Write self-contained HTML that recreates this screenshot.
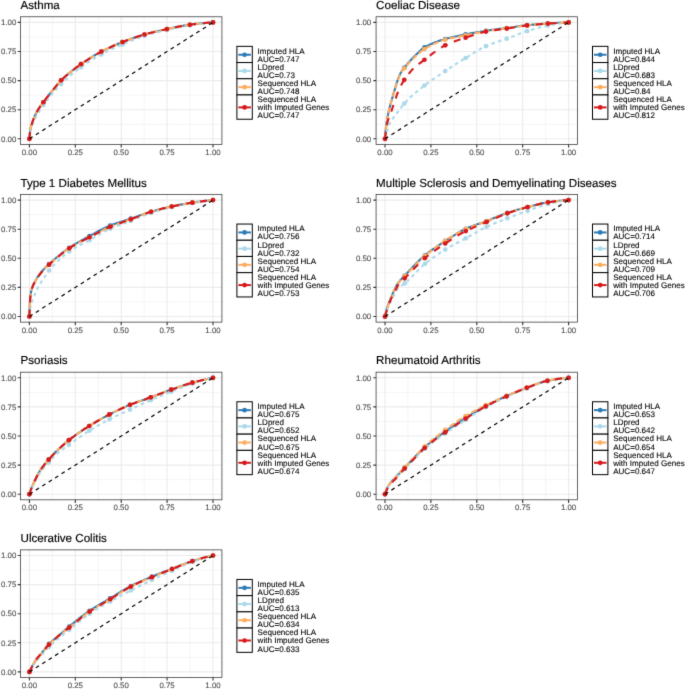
<!DOCTYPE html>
<html><head><meta charset="utf-8"><style>
html,body{margin:0;padding:0;background:#fff;}
body{width:685px;height:689px;overflow:hidden;}
svg{display:block;font-family:"Liberation Sans", sans-serif;text-rendering:geometricPrecision;}
.t{font-size:11.6px;fill:#000;stroke:#000;stroke-width:0.15px;}
.a{font-size:7.85px;fill:#4D4D4D;stroke:#4D4D4D;stroke-width:0.1px;}
.l{font-size:8.05px;fill:#000;stroke:#000;stroke-width:0.1px;}
.e{text-anchor:end;} .m{text-anchor:middle;}
</style></head><body>
<svg width="685" height="689" viewBox="0 0 685 689">
<defs><filter id="bl" filterUnits="userSpaceOnUse" x="-4" y="-4" width="693" height="697" color-interpolation-filters="sRGB"><feConvolveMatrix order="3" kernelMatrix="0.01 0.08 0.01 0.08 0.64 0.08 0.01 0.08 0.01" edgeMode="duplicate" preserveAlpha="true"/></filter></defs>
<g filter="url(#bl)">
<rect x="-4" y="-4" width="693" height="697" fill="#fff"/>
<text class="t" x="20.52" y="8.9">Asthma</text>
<path d="M52.35 16.58V144.62M20.22 124.25H222.18M98.25 16.58V144.62M20.22 95.15H222.18M144.15 16.58V144.62M20.22 66.05H222.18M190.05 16.58V144.62M20.22 36.95H222.18" stroke="#F3F3F3" stroke-width="0.8" fill="none"/>
<path d="M29.4 16.58V144.62M20.22 138.8H222.18M75.3 16.58V144.62M20.22 109.7H222.18M121.2 16.58V144.62M20.22 80.6H222.18M167.1 16.58V144.62M20.22 51.5H222.18M213 16.58V144.62M20.22 22.4H222.18" stroke="#EBEBEB" stroke-width="1.1" fill="none"/>
<path d="M29.4 138.8L29.4 138.6L29.5 138.0L29.6 137.0L29.7 135.7L29.8 134.1L30.0 132.3L30.2 130.7L30.2 130.7L30.5 129.2L30.8 127.8L30.9 127.2L31.1 126.4L31.5 125.1L31.7 124.3L31.9 123.8L32.3 122.4L32.5 121.9L32.8 121.0L33.3 119.7L33.8 118.3L34.0 117.9L34.4 117.0L34.4 117.0L35.0 115.6L35.5 114.5L35.6 114.3L36.3 112.9L37.0 111.6L37.0 111.5L37.5 110.7L37.7 110.3L38.5 109.1L38.6 108.9L39.3 107.8L40.1 106.7L40.2 106.6L41.0 105.4L41.6 104.6L41.9 104.1L42.9 102.9L43.2 102.5L43.4 102.3L43.9 101.5L44.7 100.4L44.9 100.2L45.9 98.8L46.2 98.4L47.0 97.4L47.8 96.5L48.1 96.0L49.3 94.5L49.3 94.5L50.5 93.0L50.8 92.6L51.7 91.5L52.2 91.0L52.3 90.7L53.0 90.0L53.9 88.8L54.3 88.4L55.4 86.9L55.6 86.7L56.9 85.1L58.5 83.3L60.0 81.6L61.2 80.4L61.5 80.0L63.1 78.5L64.6 77.1L66.1 75.7L67.7 74.4L69.2 73.1L70.7 71.9L72.2 70.7L73.8 69.5L75.3 68.3L76.8 67.2L78.4 66.1L79.9 65.0L81.0 64.2L81.4 63.9L83.0 62.8L84.5 61.8L86.0 60.8L87.5 59.8L89.1 58.8L90.6 57.8L92.1 56.9L93.7 55.9L95.2 55.0L96.7 54.2L98.2 53.3L99.8 52.5L101.3 51.6L101.4 51.6L102.8 50.9L104.4 50.1L105.9 49.3L107.4 48.6L109.0 47.9L110.5 47.2L112.0 46.5L113.5 45.8L115.1 45.1L116.6 44.5L118.1 43.8L119.7 43.2L121.2 42.6L122.5 42.1L122.7 42.0L124.3 41.4L125.8 40.8L127.3 40.2L128.8 39.7L130.4 39.1L131.9 38.6L133.4 38.0L135.0 37.5L136.5 37.0L138.0 36.5L139.6 36.0L141.1 35.5L142.6 35.1L144.2 34.6L144.5 34.5L145.7 34.2L147.2 33.8L148.7 33.3L150.3 32.9L151.8 32.5L153.3 32.2L154.9 31.8L156.4 31.4L157.9 31.0L159.5 30.7L161.0 30.3L162.5 30.0L164.0 29.7L165.6 29.3L166.9 29.0L167.1 29.0L168.6 28.7L170.2 28.3L171.7 28.0L173.2 27.7L174.8 27.4L176.3 27.1L177.8 26.8L179.3 26.5L180.9 26.2L182.4 25.9L183.9 25.6L185.5 25.4L187.0 25.1L188.5 24.9L189.9 24.7L190.1 24.7L191.6 24.5L193.1 24.3L194.6 24.1L196.2 23.9L197.7 23.8L199.2 23.6L200.8 23.4L202.3 23.3L203.8 23.1L205.3 23.0L206.9 22.8L208.4 22.7L209.9 22.6L211.5 22.5L213.0 22.4" stroke="#2C7BB6" stroke-width="2.1" fill="none"/>
<g fill="#2C7BB6"><circle cx="29.40" cy="138.80" r="2.35"/><circle cx="43.35" cy="102.25" r="2.35"/><circle cx="61.16" cy="80.37" r="2.35"/><circle cx="80.99" cy="64.19" r="2.35"/><circle cx="101.37" cy="51.62" r="2.35"/><circle cx="122.49" cy="42.07" r="2.35"/><circle cx="144.52" cy="34.51" r="2.35"/><circle cx="166.92" cy="29.03" r="2.35"/><circle cx="189.87" cy="24.73" r="2.35"/><circle cx="213.00" cy="22.40" r="2.35"/></g>
<path d="M29.4 138.8L29.4 138.7L29.5 138.2L29.6 137.6L29.7 136.6L29.8 135.4L30.0 134.1L30.2 132.7L30.4 131.8L30.5 131.4L30.8 130.1L30.9 129.5L31.1 128.8L31.5 127.5L31.9 126.3L32.0 126.0L32.3 125.0L32.5 124.6L32.8 123.8L33.3 122.6L33.8 121.4L34.0 121.0L34.4 120.1L34.9 119.0L35.0 118.9L35.5 117.8L35.6 117.6L36.3 116.3L37.0 115.0L37.0 114.9L37.7 113.7L38.0 113.2L38.5 112.4L38.6 112.3L39.3 111.1L40.1 109.8L40.2 109.7L41.0 108.4L41.6 107.5L41.9 107.0L42.9 105.7L43.2 105.3L43.4 105.0L43.9 104.3L44.7 103.2L44.9 103.0L45.9 101.6L46.2 101.2L47.0 100.2L47.8 99.3L48.1 98.8L49.3 97.4L49.3 97.4L50.5 96.0L50.8 95.6L51.7 94.5L52.2 94.0L52.3 93.8L53.0 93.1L53.9 92.0L54.3 91.6L55.4 90.2L55.6 90.0L56.9 88.5L58.5 86.8L60.0 85.3L61.2 84.1L61.5 83.7L63.1 82.3L64.6 80.8L66.1 79.4L67.7 78.0L69.2 76.7L70.7 75.3L72.2 74.0L73.8 72.8L75.3 71.5L76.8 70.3L78.4 69.2L79.9 68.0L81.0 67.2L81.4 66.9L83.0 65.8L84.5 64.7L86.0 63.7L87.5 62.7L89.1 61.7L90.6 60.7L92.1 59.7L93.7 58.8L95.2 57.9L96.7 57.0L98.2 56.1L99.8 55.3L101.3 54.4L101.4 54.4L102.8 53.6L104.4 52.8L105.9 52.1L107.4 51.3L109.0 50.6L110.5 49.8L112.0 49.1L113.5 48.4L115.1 47.7L116.6 47.1L118.1 46.4L119.7 45.7L121.2 45.1L122.5 44.5L122.7 44.4L124.3 43.8L125.8 43.1L127.3 42.4L128.8 41.8L130.4 41.1L131.9 40.5L133.4 39.9L135.0 39.2L136.5 38.6L138.0 38.0L139.6 37.5L141.1 36.9L142.6 36.4L144.2 35.9L144.5 35.8L145.7 35.4L147.2 35.0L148.7 34.5L150.3 34.1L151.8 33.7L153.3 33.3L154.9 32.9L156.4 32.5L157.9 32.1L159.5 31.7L161.0 31.3L162.5 31.0L164.0 30.6L165.6 30.3L166.9 30.0L167.1 29.9L168.6 29.6L170.2 29.2L171.7 28.9L173.2 28.5L174.8 28.2L176.3 27.9L177.8 27.6L179.3 27.2L180.9 26.9L182.4 26.6L183.9 26.3L185.5 26.1L187.0 25.8L188.5 25.5L189.9 25.3L190.1 25.3L191.6 25.0L193.1 24.8L194.6 24.6L196.2 24.4L197.7 24.2L199.2 23.9L200.8 23.7L202.3 23.5L203.8 23.4L205.3 23.2L206.9 23.0L208.4 22.8L209.9 22.7L211.5 22.5L213.0 22.4" stroke="#ABD9E9" stroke-width="2.1" fill="none" stroke-dasharray="3.6 3.4"/>
<g fill="#ABD9E9"><circle cx="29.40" cy="138.80" r="2.35"/><circle cx="43.35" cy="105.04" r="2.35"/><circle cx="61.16" cy="84.09" r="2.35"/><circle cx="80.99" cy="67.21" r="2.35"/><circle cx="101.37" cy="54.41" r="2.35"/><circle cx="122.49" cy="44.52" r="2.35"/><circle cx="144.52" cy="35.79" r="2.35"/><circle cx="166.92" cy="29.97" r="2.35"/><circle cx="189.87" cy="25.31" r="2.35"/><circle cx="213.00" cy="22.40" r="2.35"/></g>
<path d="M29.4 138.8L29.4 138.6L29.5 138.0L29.6 137.0L29.7 135.7L29.8 134.1L30.0 132.3L30.2 130.7L30.2 130.7L30.5 129.2L30.8 127.8L30.9 127.2L31.1 126.4L31.5 125.1L31.7 124.3L31.9 123.8L32.3 122.4L32.5 121.9L32.8 121.0L33.3 119.7L33.8 118.3L34.0 117.9L34.4 117.0L34.4 117.0L35.0 115.6L35.5 114.5L35.6 114.3L36.3 112.9L37.0 111.6L37.0 111.5L37.5 110.7L37.7 110.3L38.5 109.1L38.6 108.9L39.3 107.8L40.1 106.7L40.2 106.6L41.0 105.4L41.6 104.6L41.9 104.1L42.9 102.9L43.2 102.5L43.4 102.3L43.9 101.5L44.7 100.4L44.9 100.2L45.9 98.8L46.2 98.4L47.0 97.4L47.8 96.5L48.1 96.0L49.3 94.5L49.3 94.5L50.5 93.0L50.8 92.6L51.7 91.5L52.2 91.0L52.3 90.7L53.0 90.0L53.9 88.8L54.3 88.4L55.4 86.9L55.6 86.7L56.9 85.1L58.5 83.3L60.0 81.6L61.2 80.4L61.5 80.0L63.1 78.5L64.6 77.1L66.1 75.7L67.7 74.4L69.2 73.1L70.7 71.9L72.2 70.7L73.8 69.5L75.3 68.3L76.8 67.2L78.4 66.1L79.9 65.0L81.0 64.2L81.4 63.9L83.0 62.8L84.5 61.8L86.0 60.8L87.5 59.8L89.1 58.8L90.6 57.8L92.1 56.9L93.7 55.9L95.2 55.0L96.7 54.2L98.2 53.3L99.8 52.5L101.3 51.6L101.4 51.6L102.8 50.9L104.4 50.1L105.9 49.3L107.4 48.6L109.0 47.9L110.5 47.2L112.0 46.5L113.5 45.8L115.1 45.1L116.6 44.5L118.1 43.8L119.7 43.2L121.2 42.6L122.5 42.1L122.7 42.0L124.3 41.4L125.8 40.8L127.3 40.2L128.8 39.7L130.4 39.1L131.9 38.6L133.4 38.0L135.0 37.5L136.5 37.0L138.0 36.5L139.6 36.0L141.1 35.5L142.6 35.1L144.2 34.6L144.5 34.5L145.7 34.2L147.2 33.8L148.7 33.3L150.3 32.9L151.8 32.5L153.3 32.2L154.9 31.8L156.4 31.4L157.9 31.0L159.5 30.7L161.0 30.3L162.5 30.0L164.0 29.7L165.6 29.3L166.9 29.0L167.1 29.0L168.6 28.7L170.2 28.3L171.7 28.0L173.2 27.7L174.8 27.4L176.3 27.1L177.8 26.8L179.3 26.5L180.9 26.2L182.4 25.9L183.9 25.6L185.5 25.4L187.0 25.1L188.5 24.9L189.9 24.7L190.1 24.7L191.6 24.5L193.1 24.3L194.6 24.1L196.2 23.9L197.7 23.8L199.2 23.6L200.8 23.4L202.3 23.3L203.8 23.1L205.3 23.0L206.9 22.8L208.4 22.7L209.9 22.6L211.5 22.5L213.0 22.4" stroke="#FDAE61" stroke-width="2.1" fill="none" stroke-dasharray="6 2.6"/>
<g fill="#FDAE61"><circle cx="29.40" cy="138.80" r="2.35"/><circle cx="43.35" cy="102.25" r="2.35"/><circle cx="61.16" cy="80.37" r="2.35"/><circle cx="80.99" cy="64.19" r="2.35"/><circle cx="101.37" cy="51.62" r="2.35"/><circle cx="122.49" cy="42.07" r="2.35"/><circle cx="144.52" cy="34.51" r="2.35"/><circle cx="166.92" cy="29.03" r="2.35"/><circle cx="189.87" cy="24.73" r="2.35"/><circle cx="213.00" cy="22.40" r="2.35"/></g>
<path d="M29.4 138.8L29.4 138.6L29.5 138.0L29.6 137.0L29.7 135.7L29.8 134.1L30.0 132.3L30.2 130.7L30.2 130.7L30.5 129.2L30.8 127.8L30.9 127.2L31.1 126.4L31.5 125.1L31.7 124.3L31.9 123.8L32.3 122.4L32.5 121.9L32.8 121.0L33.3 119.7L33.8 118.3L34.0 117.9L34.4 117.0L34.4 117.0L35.0 115.6L35.5 114.5L35.6 114.3L36.3 112.9L37.0 111.6L37.0 111.5L37.5 110.7L37.7 110.3L38.5 109.1L38.6 108.9L39.3 107.8L40.1 106.7L40.2 106.6L41.0 105.4L41.6 104.6L41.9 104.1L42.9 102.9L43.2 102.5L43.4 102.3L43.9 101.5L44.7 100.4L44.9 100.2L45.9 98.8L46.2 98.4L47.0 97.4L47.8 96.5L48.1 96.0L49.3 94.5L49.3 94.5L50.5 93.0L50.8 92.6L51.7 91.5L52.2 91.0L52.3 90.7L53.0 90.0L53.9 88.8L54.3 88.4L55.4 86.9L55.6 86.7L56.9 85.1L58.5 83.3L60.0 81.6L61.2 80.4L61.5 80.0L63.1 78.5L64.6 77.1L66.1 75.7L67.7 74.4L69.2 73.1L70.7 71.9L72.2 70.7L73.8 69.5L75.3 68.3L76.8 67.2L78.4 66.1L79.9 65.0L81.0 64.2L81.4 63.9L83.0 62.8L84.5 61.8L86.0 60.8L87.5 59.8L89.1 58.8L90.6 57.8L92.1 56.9L93.7 55.9L95.2 55.0L96.7 54.2L98.2 53.3L99.8 52.5L101.3 51.6L101.4 51.6L102.8 50.9L104.4 50.1L105.9 49.3L107.4 48.6L109.0 47.9L110.5 47.2L112.0 46.5L113.5 45.8L115.1 45.1L116.6 44.5L118.1 43.8L119.7 43.2L121.2 42.6L122.5 42.1L122.7 42.0L124.3 41.4L125.8 40.8L127.3 40.2L128.8 39.7L130.4 39.1L131.9 38.6L133.4 38.0L135.0 37.5L136.5 37.0L138.0 36.5L139.6 36.0L141.1 35.5L142.6 35.1L144.2 34.6L144.5 34.5L145.7 34.2L147.2 33.8L148.7 33.3L150.3 32.9L151.8 32.5L153.3 32.2L154.9 31.8L156.4 31.4L157.9 31.0L159.5 30.7L161.0 30.3L162.5 30.0L164.0 29.7L165.6 29.3L166.9 29.0L167.1 29.0L168.6 28.7L170.2 28.3L171.7 28.0L173.2 27.7L174.8 27.4L176.3 27.1L177.8 26.8L179.3 26.5L180.9 26.2L182.4 25.9L183.9 25.6L185.5 25.4L187.0 25.1L188.5 24.9L189.9 24.7L190.1 24.7L191.6 24.5L193.1 24.3L194.6 24.1L196.2 23.9L197.7 23.8L199.2 23.6L200.8 23.4L202.3 23.3L203.8 23.1L205.3 23.0L206.9 22.8L208.4 22.7L209.9 22.6L211.5 22.5L213.0 22.4" stroke="#D7191C" stroke-width="2.1" fill="none" stroke-dasharray="7 7"/>
<g fill="#D7191C"><circle cx="29.40" cy="138.80" r="2.35"/><circle cx="43.35" cy="102.25" r="2.35"/><circle cx="61.16" cy="80.37" r="2.35"/><circle cx="80.99" cy="64.19" r="2.35"/><circle cx="101.37" cy="51.62" r="2.35"/><circle cx="122.49" cy="42.07" r="2.35"/><circle cx="144.52" cy="34.51" r="2.35"/><circle cx="166.92" cy="29.03" r="2.35"/><circle cx="189.87" cy="24.73" r="2.35"/><circle cx="213.00" cy="22.40" r="2.35"/></g>
<path d="M29.4 138.8L213 22.4" stroke="#000" stroke-width="1.2" stroke-dasharray="3.8 3.8" fill="none"/>
<rect x="20.47" y="16.78" width="201.46" height="127.64" fill="none" stroke="#333" stroke-width="0.75"/>
<path d="M17.72 138.8H20.47M29.4 144.42V147.52M17.72 109.7H20.47M75.3 144.42V147.52M17.72 80.6H20.47M121.2 144.42V147.52M17.72 51.5H20.47M167.1 144.42V147.52M17.72 22.4H20.47M213 144.42V147.52" stroke="#333" stroke-width="1.1" fill="none"/>
<text class="a e" x="16.32" y="141.5">0.00</text>
<text class="a m" x="29.4" y="154.97">0.00</text>
<text class="a e" x="16.32" y="112.4">0.25</text>
<text class="a m" x="75.3" y="154.97">0.25</text>
<text class="a e" x="16.32" y="83.3">0.50</text>
<text class="a m" x="121.2" y="154.97">0.50</text>
<text class="a e" x="16.32" y="54.2">0.75</text>
<text class="a m" x="167.1" y="154.97">0.75</text>
<text class="a e" x="16.32" y="25.1">1.00</text>
<text class="a m" x="213" y="154.97">1.00</text>
<rect x="236.9" y="46.35" width="15.4" height="16.2" fill="#fff" stroke="#000" stroke-width="1.0"/>
<path d="M238.4 54.75H250.9" stroke="#2C7BB6" stroke-width="2.0"/>
<circle cx="244.6" cy="54.75" r="2.35" fill="#2C7BB6"/>
<text class="l" x="257.6" y="53.62">Imputed HLA</text>
<text class="l" x="257.6" y="61.72">AUC=0.747</text>
<rect x="236.9" y="62.55" width="15.4" height="16.2" fill="#fff" stroke="#000" stroke-width="1.0"/>
<path d="M238.4 70.95H250.9" stroke="#ABD9E9" stroke-width="2.0"/>
<circle cx="244.6" cy="70.95" r="2.35" fill="#ABD9E9"/>
<text class="l" x="257.6" y="69.82">LDpred</text>
<text class="l" x="257.6" y="77.92">AUC=0.73</text>
<rect x="236.9" y="78.75" width="15.4" height="16.2" fill="#fff" stroke="#000" stroke-width="1.0"/>
<path d="M238.4 87.15H250.9" stroke="#FDAE61" stroke-width="2.0"/>
<circle cx="244.6" cy="87.15" r="2.35" fill="#FDAE61"/>
<text class="l" x="257.6" y="86.02">Sequenced HLA</text>
<text class="l" x="257.6" y="94.12">AUC=0.748</text>
<rect x="236.9" y="94.95" width="15.4" height="24.3" fill="#fff" stroke="#000" stroke-width="1.0"/>
<path d="M238.4 107.4H250.9" stroke="#D7191C" stroke-width="2.0"/>
<circle cx="244.6" cy="107.4" r="2.35" fill="#D7191C"/>
<text class="l" x="257.6" y="102.22">Sequenced HLA</text>
<text class="l" x="257.6" y="110.32">with Imputed Genes</text>
<text class="l" x="257.6" y="118.42">AUC=0.747</text>
<text class="t" x="376.12" y="8.9">Coeliac Disease</text>
<path d="M407.95 16.58V144.62M375.82 124.25H577.78M453.85 16.58V144.62M375.82 95.15H577.78M499.75 16.58V144.62M375.82 66.05H577.78M545.65 16.58V144.62M375.82 36.95H577.78" stroke="#F3F3F3" stroke-width="0.8" fill="none"/>
<path d="M385 16.58V144.62M375.82 138.8H577.78M430.9 16.58V144.62M375.82 109.7H577.78M476.8 16.58V144.62M375.82 80.6H577.78M522.7 16.58V144.62M375.82 51.5H577.78M568.6 16.58V144.62M375.82 22.4H577.78" stroke="#EBEBEB" stroke-width="1.1" fill="none"/>
<path d="M385.0 138.8L385.0 138.6L385.1 138.0L385.2 137.0L385.3 135.6L385.4 133.8L385.6 131.7L385.8 129.4L386.1 126.9L386.4 124.5L386.5 123.9L386.5 123.5L386.7 122.1L387.1 119.8L387.5 117.4L387.9 115.1L388.1 114.3L388.4 112.8L388.9 110.5L389.1 109.4L389.4 108.2L389.6 107.4L390.0 105.9L390.6 103.7L391.1 101.9L391.2 101.6L391.9 99.3L392.6 97.0L392.6 96.8L392.7 96.5L393.3 94.4L394.1 91.7L394.2 91.5L394.9 89.0L395.3 87.8L395.7 86.4L395.8 86.3L396.6 83.4L397.2 81.5L397.5 80.6L398.5 77.9L398.6 77.7L398.8 77.2L399.5 75.6L400.3 73.8L400.5 73.4L401.5 71.5L401.5 71.5L401.8 71.0L402.6 69.9L403.4 68.9L403.7 68.5L404.3 67.8L404.9 67.0L404.9 67.0L406.1 65.5L406.4 65.1L407.3 64.1L407.9 63.3L408.6 62.6L409.5 61.6L409.9 61.1L410.2 60.8L411.0 59.9L411.2 59.7L412.5 58.3L414.1 56.7L415.6 55.2L416.8 54.1L417.1 53.7L418.7 52.2L420.2 50.8L421.7 49.4L423.2 48.2L424.5 47.4L424.8 47.2L426.3 46.4L427.8 45.6L429.4 44.8L430.9 44.1L432.4 43.5L434.0 42.8L435.5 42.2L437.0 41.7L438.6 41.1L440.1 40.6L441.6 40.1L443.1 39.7L444.7 39.2L445.2 39.0L446.2 38.8L447.7 38.3L449.3 37.9L450.8 37.6L452.3 37.2L453.9 36.8L455.4 36.5L456.9 36.2L458.4 35.8L460.0 35.5L461.5 35.2L463.0 34.9L464.6 34.6L465.6 34.4L466.1 34.3L467.6 34.0L469.1 33.7L470.7 33.4L472.2 33.1L473.7 32.8L475.3 32.6L476.8 32.3L478.3 32.0L479.9 31.8L481.4 31.5L482.9 31.3L484.4 31.0L486.0 30.8L487.5 30.6L489.0 30.3L490.6 30.1L492.1 29.9L493.6 29.7L495.2 29.5L496.7 29.3L498.2 29.1L499.8 28.9L501.3 28.7L502.8 28.5L504.3 28.3L505.9 28.1L506.7 28.0L507.4 27.9L508.9 27.7L510.5 27.5L512.0 27.2L513.5 27.0L515.0 26.8L516.6 26.5L518.1 26.3L519.6 26.1L521.2 25.9L522.7 25.7L524.2 25.5L525.8 25.3L527.1 25.2L527.3 25.2L528.8 25.0L530.4 24.9L531.9 24.7L533.4 24.6L534.9 24.5L536.5 24.4L538.0 24.2L539.5 24.1L541.1 24.0L542.6 23.9L544.1 23.8L545.6 23.7L547.2 23.6L547.9 23.6L548.7 23.5L550.2 23.4L551.8 23.3L553.3 23.2L554.8 23.1L556.4 23.0L557.9 22.9L559.4 22.9L561.0 22.8L562.5 22.7L564.0 22.6L565.5 22.5L567.1 22.5L568.6 22.4" stroke="#2C7BB6" stroke-width="2.1" fill="none"/>
<g fill="#2C7BB6"><circle cx="385.00" cy="138.80" r="2.35"/><circle cx="404.28" cy="67.80" r="2.35"/><circle cx="424.47" cy="47.43" r="2.35"/><circle cx="445.22" cy="39.05" r="2.35"/><circle cx="465.60" cy="34.39" r="2.35"/><circle cx="485.98" cy="30.78" r="2.35"/><circle cx="506.73" cy="27.99" r="2.35"/><circle cx="527.11" cy="25.19" r="2.35"/><circle cx="547.85" cy="23.56" r="2.35"/><circle cx="568.60" cy="22.40" r="2.35"/></g>
<path d="M385.0 138.8L385.0 138.7L385.1 138.5L385.2 138.2L385.3 137.7L385.4 137.1L385.6 136.3L385.8 135.4L386.1 134.4L386.4 133.3L386.5 132.8L386.7 132.1L387.1 130.8L387.5 129.5L387.9 128.1L388.1 127.6L388.4 126.7L388.9 125.3L389.4 124.3L389.4 124.1L389.6 123.8L390.0 123.0L390.6 121.9L391.1 121.0L391.2 120.8L391.9 119.8L392.6 118.8L392.6 118.7L393.3 117.8L394.1 116.8L394.2 116.7L394.9 115.8L395.7 114.8L395.8 114.7L396.6 113.6L397.2 112.8L397.3 112.7L397.5 112.4L398.5 111.1L398.8 110.7L399.5 109.7L400.3 108.6L400.5 108.3L401.5 106.9L401.8 106.5L402.6 105.5L403.4 104.6L403.7 104.1L404.3 103.5L404.9 102.9L404.9 102.9L406.1 101.6L406.4 101.2L407.3 100.3L407.9 99.7L408.6 99.1L409.5 98.2L409.9 97.8L411.0 96.7L411.2 96.6L412.5 95.3L414.1 94.0L415.6 92.7L417.1 91.4L418.7 90.1L420.2 88.9L421.7 87.7L423.2 86.4L424.5 85.5L424.8 85.2L426.3 84.1L427.8 82.9L429.4 81.8L430.9 80.7L432.4 79.6L434.0 78.6L435.5 77.5L437.0 76.5L438.6 75.5L440.1 74.5L441.6 73.5L443.1 72.4L444.7 71.4L445.2 71.1L446.2 70.4L447.7 69.4L449.3 68.4L450.8 67.4L452.3 66.4L453.9 65.4L455.4 64.4L456.9 63.4L458.4 62.5L460.0 61.5L461.5 60.5L463.0 59.6L464.6 58.7L465.6 58.0L466.1 57.7L467.6 56.8L469.1 55.8L470.7 54.9L472.2 53.9L473.7 52.9L475.3 52.0L476.8 51.0L478.3 50.1L479.9 49.3L481.4 48.4L482.9 47.6L484.4 46.9L486.0 46.1L487.5 45.5L489.0 44.9L490.6 44.3L492.1 43.7L493.6 43.1L495.2 42.6L496.7 42.1L498.2 41.6L499.8 41.1L501.3 40.6L502.8 40.1L504.3 39.5L505.9 39.0L506.7 38.7L507.4 38.4L508.9 37.9L510.5 37.3L512.0 36.7L513.5 36.1L515.0 35.5L516.6 34.9L518.1 34.3L519.6 33.7L521.2 33.2L522.7 32.6L524.2 32.1L525.8 31.6L527.1 31.1L527.3 31.1L528.8 30.6L530.4 30.1L531.9 29.7L533.4 29.2L534.9 28.8L536.5 28.3L538.0 27.9L539.5 27.5L541.1 27.1L542.6 26.7L544.1 26.3L545.6 26.0L547.2 25.7L547.9 25.5L548.7 25.4L550.2 25.1L551.8 24.8L553.3 24.5L554.8 24.3L556.4 24.0L557.9 23.8L559.4 23.5L561.0 23.3L562.5 23.1L564.0 22.9L565.5 22.7L567.1 22.6L568.6 22.4" stroke="#ABD9E9" stroke-width="2.1" fill="none" stroke-dasharray="3.6 3.4"/>
<g fill="#ABD9E9"><circle cx="385.00" cy="138.80" r="2.35"/><circle cx="404.28" cy="103.53" r="2.35"/><circle cx="424.47" cy="85.49" r="2.35"/><circle cx="445.22" cy="71.06" r="2.35"/><circle cx="465.60" cy="58.02" r="2.35"/><circle cx="485.98" cy="46.15" r="2.35"/><circle cx="506.73" cy="38.70" r="2.35"/><circle cx="527.11" cy="31.13" r="2.35"/><circle cx="547.85" cy="25.54" r="2.35"/><circle cx="568.60" cy="22.40" r="2.35"/></g>
<path d="M385.0 138.8L385.0 138.6L385.1 138.0L385.2 137.0L385.3 135.7L385.4 134.0L385.6 131.9L385.8 129.7L386.1 127.2L386.4 124.8L386.5 124.3L386.5 123.8L386.7 122.5L387.1 120.1L387.5 117.8L387.9 115.4L388.1 114.7L388.4 113.1L388.9 110.8L389.1 109.7L389.4 108.5L389.6 107.8L390.0 106.3L390.6 104.1L391.1 102.2L391.2 101.9L391.9 99.7L392.6 97.3L392.6 97.1L392.7 96.9L393.3 94.7L394.1 92.1L394.2 91.8L394.9 89.4L395.3 88.2L395.7 86.8L395.8 86.6L396.6 83.7L397.2 81.8L397.5 80.9L398.5 78.3L398.6 78.0L398.8 77.6L399.5 75.9L400.3 74.1L400.5 73.7L401.5 71.9L401.5 71.8L401.8 71.4L402.6 70.3L403.4 69.4L403.7 68.9L404.3 68.3L404.9 67.5L404.9 67.5L406.1 66.1L406.4 65.7L407.3 64.7L407.9 64.0L408.6 63.3L409.5 62.3L409.9 61.9L410.2 61.6L411.0 60.7L411.2 60.6L412.5 59.2L414.1 57.7L415.6 56.3L416.8 55.2L417.1 54.9L418.7 53.6L420.2 52.2L421.7 51.0L423.2 49.9L424.5 49.1L424.8 48.9L426.3 48.0L427.8 47.1L429.4 46.3L430.9 45.4L432.4 44.7L434.0 43.9L435.5 43.2L437.0 42.6L438.6 41.9L440.1 41.3L441.6 40.8L443.1 40.3L444.7 39.8L445.2 39.6L446.2 39.4L447.7 38.9L449.3 38.6L450.8 38.2L452.3 37.9L453.9 37.6L455.4 37.3L456.9 37.0L458.4 36.7L460.0 36.4L461.5 36.1L463.0 35.8L464.6 35.5L465.6 35.3L466.1 35.2L467.6 34.9L469.1 34.6L470.7 34.2L472.2 33.9L473.7 33.6L475.3 33.2L476.8 32.9L478.3 32.6L479.9 32.3L481.4 32.0L482.9 31.7L484.4 31.4L486.0 31.1L487.5 30.9L489.0 30.6L490.6 30.4L492.1 30.2L493.6 30.0L495.2 29.8L496.7 29.6L498.2 29.4L499.8 29.2L501.3 29.0L502.8 28.8L504.3 28.6L505.9 28.3L506.7 28.2L507.4 28.1L508.9 27.9L510.5 27.7L512.0 27.4L513.5 27.2L515.0 27.0L516.6 26.7L518.1 26.5L519.6 26.3L521.2 26.0L522.7 25.8L524.2 25.6L525.8 25.5L527.1 25.3L527.3 25.3L528.8 25.1L530.4 25.0L531.9 24.8L533.4 24.7L534.9 24.6L536.5 24.4L538.0 24.3L539.5 24.2L541.1 24.1L542.6 23.9L544.1 23.8L545.6 23.7L547.2 23.6L547.9 23.6L548.7 23.5L550.2 23.4L551.8 23.3L553.3 23.2L554.8 23.1L556.4 23.0L557.9 22.9L559.4 22.8L561.0 22.8L562.5 22.7L564.0 22.6L565.5 22.5L567.1 22.5L568.6 22.4" stroke="#FDAE61" stroke-width="2.1" fill="none" stroke-dasharray="6 2.6"/>
<g fill="#FDAE61"><circle cx="385.00" cy="138.80" r="2.35"/><circle cx="404.28" cy="68.26" r="2.35"/><circle cx="424.47" cy="49.06" r="2.35"/><circle cx="445.22" cy="39.63" r="2.35"/><circle cx="465.60" cy="35.32" r="2.35"/><circle cx="485.98" cy="31.13" r="2.35"/><circle cx="506.73" cy="28.22" r="2.35"/><circle cx="527.11" cy="25.31" r="2.35"/><circle cx="547.85" cy="23.56" r="2.35"/><circle cx="568.60" cy="22.40" r="2.35"/></g>
<path d="M385.0 138.8L385.0 138.7L385.1 138.2L385.2 137.5L385.3 136.5L385.4 135.2L385.6 133.6L385.8 131.8L386.1 129.8L386.4 127.8L386.5 126.9L386.7 125.8L387.0 124.3L387.1 124.0L387.5 122.3L387.9 120.7L388.1 120.2L388.4 119.2L388.9 117.6L389.4 116.2L389.6 115.7L390.0 114.7L390.6 113.2L391.1 111.9L391.2 111.6L391.9 109.8L391.9 109.7L392.6 107.6L392.6 107.5L393.3 105.4L394.1 103.0L394.2 102.8L394.9 100.5L395.7 98.2L395.8 98.1L396.6 95.7L397.2 94.1L397.3 94.0L397.5 93.4L398.5 91.2L398.8 90.5L399.5 88.9L400.3 87.2L400.5 86.7L401.5 84.6L401.8 84.1L402.6 82.6L403.4 81.3L403.7 80.6L404.3 79.8L404.9 78.9L404.9 78.8L406.1 77.1L406.4 76.7L407.3 75.5L407.9 74.6L408.6 73.9L409.5 72.8L409.9 72.3L411.0 71.0L411.2 70.8L412.5 69.4L413.8 68.1L414.1 67.9L415.6 66.5L417.1 65.2L418.7 64.0L420.2 62.9L421.7 61.8L423.2 60.7L424.5 59.8L424.8 59.5L426.3 58.4L427.8 57.2L429.4 56.0L430.9 54.9L432.4 53.7L434.0 52.5L435.5 51.4L437.0 50.3L438.6 49.3L440.1 48.3L441.6 47.3L443.1 46.4L444.7 45.6L445.2 45.3L446.2 44.9L447.7 44.2L449.3 43.5L450.8 42.9L452.3 42.2L453.9 41.7L455.4 41.1L456.9 40.6L458.4 40.0L460.0 39.5L461.5 39.0L463.0 38.5L464.6 38.0L465.6 37.6L466.1 37.5L467.6 37.0L469.1 36.5L470.7 35.9L472.2 35.4L473.7 34.9L475.3 34.4L476.8 34.0L478.3 33.5L479.9 33.1L481.4 32.7L482.9 32.3L484.4 31.9L486.0 31.6L487.5 31.3L489.0 31.0L490.6 30.8L492.1 30.6L493.6 30.3L495.2 30.1L496.7 29.9L498.2 29.7L499.8 29.5L501.3 29.3L502.8 29.1L504.3 28.9L505.9 28.7L506.7 28.6L507.4 28.5L508.9 28.2L510.5 28.0L512.0 27.7L513.5 27.5L515.0 27.2L516.6 27.0L518.1 26.7L519.6 26.5L521.2 26.2L522.7 26.0L524.2 25.8L525.8 25.6L527.1 25.4L527.3 25.4L528.8 25.2L530.4 25.1L531.9 24.9L533.4 24.8L534.9 24.6L536.5 24.5L538.0 24.3L539.5 24.2L541.1 24.1L542.6 24.0L544.1 23.8L545.6 23.7L547.2 23.6L547.9 23.6L548.7 23.5L550.2 23.4L551.8 23.3L553.3 23.2L554.8 23.1L556.4 23.0L557.9 22.9L559.4 22.8L561.0 22.8L562.5 22.7L564.0 22.6L565.5 22.5L567.1 22.5L568.6 22.4" stroke="#D7191C" stroke-width="2.1" fill="none" stroke-dasharray="7 7"/>
<g fill="#D7191C"><circle cx="385.00" cy="138.80" r="2.35"/><circle cx="404.28" cy="79.79" r="2.35"/><circle cx="424.47" cy="59.76" r="2.35"/><circle cx="445.22" cy="45.33" r="2.35"/><circle cx="465.60" cy="37.65" r="2.35"/><circle cx="485.98" cy="31.60" r="2.35"/><circle cx="506.73" cy="28.57" r="2.35"/><circle cx="527.11" cy="25.43" r="2.35"/><circle cx="547.85" cy="23.56" r="2.35"/><circle cx="568.60" cy="22.40" r="2.35"/></g>
<path d="M385 138.8L568.6 22.4" stroke="#000" stroke-width="1.2" stroke-dasharray="3.8 3.8" fill="none"/>
<rect x="376.07" y="16.78" width="201.46" height="127.64" fill="none" stroke="#333" stroke-width="0.75"/>
<path d="M373.32 138.8H376.07M385 144.42V147.52M373.32 109.7H376.07M430.9 144.42V147.52M373.32 80.6H376.07M476.8 144.42V147.52M373.32 51.5H376.07M522.7 144.42V147.52M373.32 22.4H376.07M568.6 144.42V147.52" stroke="#333" stroke-width="1.1" fill="none"/>
<text class="a e" x="371.22" y="141.5">0.00</text>
<text class="a m" x="385" y="154.97">0.00</text>
<text class="a e" x="371.22" y="112.4">0.25</text>
<text class="a m" x="430.9" y="154.97">0.25</text>
<text class="a e" x="371.22" y="83.3">0.50</text>
<text class="a m" x="476.8" y="154.97">0.50</text>
<text class="a e" x="371.22" y="54.2">0.75</text>
<text class="a m" x="522.7" y="154.97">0.75</text>
<text class="a e" x="371.22" y="25.1">1.00</text>
<text class="a m" x="568.6" y="154.97">1.00</text>
<rect x="592.5" y="46.35" width="15.4" height="16.2" fill="#fff" stroke="#000" stroke-width="1.0"/>
<path d="M594 54.75H606.5" stroke="#2C7BB6" stroke-width="2.0"/>
<circle cx="600.2" cy="54.75" r="2.35" fill="#2C7BB6"/>
<text class="l" x="613.2" y="53.62">Imputed HLA</text>
<text class="l" x="613.2" y="61.72">AUC=0.844</text>
<rect x="592.5" y="62.55" width="15.4" height="16.2" fill="#fff" stroke="#000" stroke-width="1.0"/>
<path d="M594 70.95H606.5" stroke="#ABD9E9" stroke-width="2.0"/>
<circle cx="600.2" cy="70.95" r="2.35" fill="#ABD9E9"/>
<text class="l" x="613.2" y="69.82">LDpred</text>
<text class="l" x="613.2" y="77.92">AUC=0.683</text>
<rect x="592.5" y="78.75" width="15.4" height="16.2" fill="#fff" stroke="#000" stroke-width="1.0"/>
<path d="M594 87.15H606.5" stroke="#FDAE61" stroke-width="2.0"/>
<circle cx="600.2" cy="87.15" r="2.35" fill="#FDAE61"/>
<text class="l" x="613.2" y="86.02">Sequenced HLA</text>
<text class="l" x="613.2" y="94.12">AUC=0.84</text>
<rect x="592.5" y="94.95" width="15.4" height="24.3" fill="#fff" stroke="#000" stroke-width="1.0"/>
<path d="M594 107.4H606.5" stroke="#D7191C" stroke-width="2.0"/>
<circle cx="600.2" cy="107.4" r="2.35" fill="#D7191C"/>
<text class="l" x="613.2" y="102.22">Sequenced HLA</text>
<text class="l" x="613.2" y="110.32">with Imputed Genes</text>
<text class="l" x="613.2" y="118.42">AUC=0.812</text>
<text class="t" x="20.52" y="186.6">Type 1 Diabetes Mellitus</text>
<path d="M52.35 194.28V322.32M20.22 301.95H222.18M98.25 194.28V322.32M20.22 272.85H222.18M144.15 194.28V322.32M20.22 243.75H222.18M190.05 194.28V322.32M20.22 214.65H222.18" stroke="#F3F3F3" stroke-width="0.8" fill="none"/>
<path d="M29.4 194.28V322.32M20.22 316.5H222.18M75.3 194.28V322.32M20.22 287.4H222.18M121.2 194.28V322.32M20.22 258.3H222.18M167.1 194.28V322.32M20.22 229.2H222.18M213 194.28V322.32M20.22 200.1H222.18" stroke="#EBEBEB" stroke-width="1.1" fill="none"/>
<path d="M29.4 316.5L29.4 315.7L29.5 313.6L29.6 310.4L29.6 309.5L29.7 307.2L29.8 303.9L30.0 301.9L30.0 301.0L30.2 298.1L30.5 295.5L30.6 294.8L30.8 293.6L30.9 292.8L31.1 291.7L31.5 290.0L31.9 288.5L32.3 287.1L32.3 287.1L32.5 286.7L32.8 285.9L33.3 284.7L33.8 283.6L34.0 283.2L34.4 282.5L35.0 281.5L35.5 280.6L35.5 280.5L35.6 280.4L36.3 279.2L37.0 278.1L37.0 278.0L37.7 276.9L38.5 275.8L38.6 275.6L39.3 274.6L40.1 273.5L40.2 273.5L41.0 272.3L41.1 272.3L41.6 271.6L41.9 271.2L42.9 270.2L43.2 269.9L43.9 269.1L44.6 268.4L44.7 268.3L44.9 268.1L45.9 267.0L46.2 266.8L47.0 266.0L47.8 265.3L48.1 264.9L49.0 264.1L49.3 263.9L49.3 263.9L50.5 262.8L50.8 262.5L51.7 261.8L52.3 261.2L53.0 260.7L53.9 259.9L54.3 259.5L55.4 258.5L55.6 258.4L56.9 257.2L58.5 256.0L60.0 254.7L61.5 253.5L63.1 252.3L64.6 251.1L66.1 250.0L67.7 248.9L69.2 247.9L69.2 247.8L70.7 246.9L72.2 245.9L73.8 244.9L75.3 244.0L76.8 243.1L78.4 242.2L79.9 241.4L81.4 240.5L83.0 239.7L84.5 238.9L86.0 238.0L87.5 237.2L89.1 236.4L89.4 236.2L90.6 235.5L92.1 234.7L93.7 233.8L95.2 233.0L96.7 232.1L98.2 231.3L99.8 230.5L101.3 229.7L102.8 228.9L104.4 228.1L105.9 227.4L107.4 226.6L109.0 226.0L110.2 225.5L110.5 225.4L112.0 224.8L113.5 224.2L115.1 223.7L116.6 223.2L118.1 222.7L119.7 222.2L121.2 221.7L122.7 221.2L124.3 220.8L125.8 220.3L127.3 219.8L128.8 219.3L130.4 218.8L130.7 218.7L131.9 218.3L133.4 217.8L135.0 217.3L136.5 216.7L138.0 216.2L139.6 215.6L141.1 215.1L142.6 214.5L144.2 214.0L145.7 213.5L147.2 213.0L148.7 212.5L150.3 212.0L151.1 211.7L151.8 211.5L153.3 211.1L154.9 210.7L156.4 210.2L157.9 209.8L159.5 209.4L161.0 209.0L162.5 208.6L164.0 208.3L165.6 207.9L167.1 207.5L168.6 207.2L170.2 206.8L171.7 206.5L173.2 206.2L174.8 205.9L176.3 205.5L177.8 205.2L179.3 204.9L180.9 204.6L182.4 204.3L183.9 204.1L185.5 203.8L187.0 203.5L188.5 203.3L190.1 203.0L191.6 202.8L192.4 202.7L193.1 202.6L194.6 202.3L196.2 202.1L197.7 201.9L199.2 201.7L200.8 201.5L202.3 201.3L203.8 201.1L205.3 200.9L206.9 200.7L208.4 200.6L209.9 200.4L211.5 200.2L213.0 200.1" stroke="#2C7BB6" stroke-width="2.1" fill="none"/>
<g fill="#2C7BB6"><circle cx="29.40" cy="316.50" r="2.35"/><circle cx="49.05" cy="264.12" r="2.35"/><circle cx="69.24" cy="247.82" r="2.35"/><circle cx="89.44" cy="236.18" r="2.35"/><circle cx="110.18" cy="225.48" r="2.35"/><circle cx="130.75" cy="218.72" r="2.35"/><circle cx="151.13" cy="211.74" r="2.35"/><circle cx="171.69" cy="206.50" r="2.35"/><circle cx="192.44" cy="202.66" r="2.35"/><circle cx="213.00" cy="200.10" r="2.35"/></g>
<path d="M29.4 316.5L29.4 316.3L29.5 315.7L29.6 314.8L29.7 313.5L29.8 312.0L30.0 310.3L30.1 309.5L30.2 308.9L30.5 307.4L30.8 306.0L30.9 305.4L31.1 304.7L31.5 303.3L31.9 302.0L31.9 301.9L32.3 300.7L32.5 300.2L32.8 299.4L33.3 298.1L33.8 296.8L34.0 296.4L34.4 295.5L34.5 295.1L35.0 294.0L35.5 292.8L35.6 292.5L36.3 291.0L37.0 289.5L37.0 289.4L37.7 288.0L38.0 287.4L38.5 286.5L38.6 286.4L39.3 285.1L40.1 283.9L40.2 283.8L41.0 282.4L41.6 281.5L41.9 281.1L41.9 281.0L42.9 279.5L43.2 279.1L43.9 278.1L44.7 276.8L44.9 276.5L45.9 275.0L46.2 274.6L46.8 273.7L47.0 273.4L47.8 272.3L48.1 271.7L49.0 270.5L49.3 270.2L49.3 270.2L50.5 268.8L50.8 268.4L51.7 267.4L52.3 266.7L53.0 266.0L53.9 265.0L54.3 264.6L55.4 263.4L55.6 263.2L56.9 261.9L58.5 260.4L60.0 258.9L61.5 257.5L63.1 256.2L64.6 254.9L66.1 253.7L67.7 252.6L69.2 251.5L69.2 251.4L70.7 250.4L72.2 249.4L73.8 248.5L75.3 247.6L76.8 246.8L78.4 245.9L79.9 245.1L81.4 244.3L83.0 243.6L84.5 242.8L86.0 242.0L87.5 241.2L89.1 240.3L89.4 240.1L90.6 239.5L92.1 238.6L93.7 237.7L95.2 236.9L96.7 236.0L98.2 235.1L99.8 234.2L101.3 233.3L102.8 232.5L104.4 231.6L105.9 230.8L107.4 230.0L109.0 229.3L110.2 228.7L110.5 228.6L112.0 227.9L113.5 227.3L115.1 226.7L116.6 226.1L118.1 225.5L119.7 224.9L121.2 224.3L122.7 223.8L124.3 223.2L125.8 222.7L127.3 222.1L128.8 221.5L130.4 221.0L130.7 220.8L131.9 220.4L133.4 219.8L135.0 219.1L136.5 218.5L138.0 217.9L139.6 217.3L141.1 216.6L142.6 216.0L144.2 215.4L145.7 214.8L147.2 214.3L148.7 213.7L150.3 213.2L151.1 212.9L151.8 212.7L153.3 212.2L154.9 211.7L156.4 211.2L157.9 210.8L159.5 210.3L161.0 209.9L162.5 209.4L164.0 209.0L165.6 208.6L167.1 208.2L168.6 207.8L170.2 207.4L171.7 207.1L173.2 206.7L174.8 206.4L176.3 206.1L177.8 205.7L179.3 205.4L180.9 205.1L182.4 204.8L183.9 204.5L185.5 204.2L187.0 203.9L188.5 203.7L190.1 203.4L191.6 203.2L192.4 203.0L193.1 202.9L194.6 202.7L196.2 202.4L197.7 202.2L199.2 201.9L200.8 201.7L202.3 201.5L203.8 201.3L205.3 201.1L206.9 200.9L208.4 200.7L209.9 200.5L211.5 200.3L213.0 200.1" stroke="#ABD9E9" stroke-width="2.1" fill="none" stroke-dasharray="3.6 3.4"/>
<g fill="#ABD9E9"><circle cx="29.40" cy="316.50" r="2.35"/><circle cx="49.05" cy="270.52" r="2.35"/><circle cx="69.24" cy="251.43" r="2.35"/><circle cx="89.44" cy="240.14" r="2.35"/><circle cx="110.18" cy="228.73" r="2.35"/><circle cx="130.75" cy="220.82" r="2.35"/><circle cx="151.13" cy="212.90" r="2.35"/><circle cx="171.69" cy="207.08" r="2.35"/><circle cx="192.44" cy="203.01" r="2.35"/><circle cx="213.00" cy="200.10" r="2.35"/></g>
<path d="M29.4 316.5L29.4 315.7L29.5 313.6L29.6 310.4L29.6 309.5L29.7 307.2L29.8 303.9L30.0 301.9L30.0 301.0L30.2 298.2L30.5 295.7L30.6 295.1L30.8 293.8L30.9 293.0L31.1 292.0L31.5 290.3L31.9 288.8L32.3 287.5L32.3 287.4L32.5 287.1L32.8 286.2L33.3 285.1L33.8 284.0L34.0 283.6L34.4 283.0L35.0 281.9L35.5 281.1L35.5 281.0L35.6 280.8L36.3 279.7L37.0 278.6L37.0 278.5L37.7 277.5L38.5 276.3L38.6 276.2L39.3 275.2L40.1 274.1L40.2 274.0L41.0 272.9L41.1 272.9L41.6 272.2L41.9 271.8L42.9 270.7L43.2 270.4L43.9 269.6L44.6 268.9L44.7 268.8L44.9 268.6L45.9 267.5L46.2 267.3L47.0 266.5L47.8 265.8L48.1 265.5L49.0 264.7L49.3 264.5L49.3 264.5L50.5 263.4L50.8 263.1L51.7 262.3L52.3 261.8L53.0 261.2L53.9 260.4L54.3 260.1L55.4 259.1L55.6 259.0L56.9 257.8L58.5 256.5L60.0 255.2L61.5 254.0L63.1 252.7L64.6 251.6L66.1 250.4L67.7 249.4L69.2 248.3L69.2 248.3L70.7 247.3L72.2 246.4L73.8 245.5L75.3 244.6L76.8 243.8L78.4 242.9L79.9 242.1L81.4 241.3L83.0 240.6L84.5 239.8L86.0 239.0L87.5 238.2L89.1 237.4L89.4 237.2L90.6 236.6L92.1 235.8L93.7 235.0L95.2 234.2L96.7 233.4L98.2 232.6L99.8 231.8L101.3 231.0L102.8 230.3L104.4 229.5L105.9 228.8L107.4 228.1L109.0 227.4L110.2 226.9L110.5 226.7L112.0 226.1L113.5 225.5L115.1 224.9L116.6 224.3L118.1 223.8L119.7 223.2L121.2 222.7L122.7 222.2L124.3 221.6L125.8 221.1L127.3 220.5L128.8 220.0L130.4 219.4L130.7 219.3L131.9 218.9L133.4 218.3L135.0 217.7L136.5 217.1L138.0 216.5L139.6 215.9L141.1 215.3L142.6 214.7L144.2 214.1L145.7 213.6L147.2 213.0L148.7 212.5L150.3 212.0L151.1 211.7L151.8 211.5L153.3 211.1L154.9 210.6L156.4 210.2L157.9 209.8L159.5 209.4L161.0 209.0L162.5 208.6L164.0 208.2L165.6 207.9L167.1 207.5L168.6 207.2L170.2 206.8L171.7 206.5L173.2 206.2L174.8 205.9L176.3 205.5L177.8 205.2L179.3 204.9L180.9 204.6L182.4 204.3L183.9 204.1L185.5 203.8L187.0 203.5L188.5 203.3L190.1 203.0L191.6 202.8L192.4 202.7L193.1 202.6L194.6 202.3L196.2 202.1L197.7 201.9L199.2 201.7L200.8 201.5L202.3 201.3L203.8 201.1L205.3 200.9L206.9 200.7L208.4 200.6L209.9 200.4L211.5 200.2L213.0 200.1" stroke="#FDAE61" stroke-width="2.1" fill="none" stroke-dasharray="6 2.6"/>
<g fill="#FDAE61"><circle cx="29.40" cy="316.50" r="2.35"/><circle cx="49.05" cy="264.70" r="2.35"/><circle cx="69.24" cy="248.29" r="2.35"/><circle cx="89.44" cy="237.23" r="2.35"/><circle cx="110.18" cy="226.87" r="2.35"/><circle cx="130.75" cy="219.31" r="2.35"/><circle cx="151.13" cy="211.74" r="2.35"/><circle cx="171.69" cy="206.50" r="2.35"/><circle cx="192.44" cy="202.66" r="2.35"/><circle cx="213.00" cy="200.10" r="2.35"/></g>
<path d="M29.4 316.5L29.4 315.7L29.5 313.6L29.6 310.4L29.6 309.5L29.7 307.2L29.8 303.9L30.0 301.9L30.0 301.0L30.2 298.2L30.5 295.7L30.6 295.1L30.8 293.8L30.9 293.0L31.1 292.0L31.5 290.3L31.9 288.8L32.3 287.5L32.3 287.4L32.5 287.1L32.8 286.2L33.3 285.1L33.8 284.0L34.0 283.6L34.4 283.0L35.0 281.9L35.5 281.1L35.5 281.0L35.6 280.8L36.3 279.7L37.0 278.6L37.0 278.5L37.7 277.5L38.5 276.3L38.6 276.2L39.3 275.2L40.1 274.1L40.2 274.0L41.0 272.9L41.1 272.9L41.6 272.2L41.9 271.8L42.9 270.7L43.2 270.4L43.9 269.6L44.6 268.9L44.7 268.8L44.9 268.6L45.9 267.5L46.2 267.3L47.0 266.5L47.8 265.8L48.1 265.5L49.0 264.7L49.3 264.5L49.3 264.5L50.5 263.4L50.8 263.1L51.7 262.3L52.3 261.8L53.0 261.2L53.9 260.4L54.3 260.1L55.4 259.1L55.6 259.0L56.9 257.8L58.5 256.5L60.0 255.2L61.5 254.0L63.1 252.7L64.6 251.6L66.1 250.4L67.7 249.4L69.2 248.3L69.2 248.3L70.7 247.3L72.2 246.4L73.8 245.5L75.3 244.6L76.8 243.8L78.4 242.9L79.9 242.1L81.4 241.3L83.0 240.6L84.5 239.8L86.0 239.0L87.5 238.2L89.1 237.4L89.4 237.2L90.6 236.6L92.1 235.8L93.7 235.0L95.2 234.2L96.7 233.4L98.2 232.6L99.8 231.8L101.3 231.0L102.8 230.3L104.4 229.5L105.9 228.8L107.4 228.1L109.0 227.4L110.2 226.9L110.5 226.7L112.0 226.1L113.5 225.5L115.1 224.9L116.6 224.3L118.1 223.8L119.7 223.2L121.2 222.7L122.7 222.2L124.3 221.6L125.8 221.1L127.3 220.5L128.8 220.0L130.4 219.4L130.7 219.3L131.9 218.9L133.4 218.3L135.0 217.7L136.5 217.1L138.0 216.5L139.6 215.9L141.1 215.3L142.6 214.7L144.2 214.1L145.7 213.6L147.2 213.0L148.7 212.5L150.3 212.0L151.1 211.7L151.8 211.5L153.3 211.1L154.9 210.6L156.4 210.2L157.9 209.8L159.5 209.4L161.0 209.0L162.5 208.6L164.0 208.2L165.6 207.9L167.1 207.5L168.6 207.2L170.2 206.8L171.7 206.5L173.2 206.2L174.8 205.9L176.3 205.5L177.8 205.2L179.3 204.9L180.9 204.6L182.4 204.3L183.9 204.1L185.5 203.8L187.0 203.5L188.5 203.3L190.1 203.0L191.6 202.8L192.4 202.7L193.1 202.6L194.6 202.3L196.2 202.1L197.7 201.9L199.2 201.7L200.8 201.5L202.3 201.3L203.8 201.1L205.3 200.9L206.9 200.7L208.4 200.6L209.9 200.4L211.5 200.2L213.0 200.1" stroke="#D7191C" stroke-width="2.1" fill="none" stroke-dasharray="7 7"/>
<g fill="#D7191C"><circle cx="29.40" cy="316.50" r="2.35"/><circle cx="49.05" cy="264.70" r="2.35"/><circle cx="69.24" cy="248.29" r="2.35"/><circle cx="89.44" cy="237.23" r="2.35"/><circle cx="110.18" cy="226.87" r="2.35"/><circle cx="130.75" cy="219.31" r="2.35"/><circle cx="151.13" cy="211.74" r="2.35"/><circle cx="171.69" cy="206.50" r="2.35"/><circle cx="192.44" cy="202.66" r="2.35"/><circle cx="213.00" cy="200.10" r="2.35"/></g>
<path d="M29.4 316.5L213 200.1" stroke="#000" stroke-width="1.2" stroke-dasharray="3.8 3.8" fill="none"/>
<rect x="20.47" y="194.48" width="201.46" height="127.64" fill="none" stroke="#333" stroke-width="0.75"/>
<path d="M17.72 316.5H20.47M29.4 322.12V325.22M17.72 287.4H20.47M75.3 322.12V325.22M17.72 258.3H20.47M121.2 322.12V325.22M17.72 229.2H20.47M167.1 322.12V325.22M17.72 200.1H20.47M213 322.12V325.22" stroke="#333" stroke-width="1.1" fill="none"/>
<text class="a e" x="16.32" y="319.2">0.00</text>
<text class="a m" x="29.4" y="332.67">0.00</text>
<text class="a e" x="16.32" y="290.1">0.25</text>
<text class="a m" x="75.3" y="332.67">0.25</text>
<text class="a e" x="16.32" y="261">0.50</text>
<text class="a m" x="121.2" y="332.67">0.50</text>
<text class="a e" x="16.32" y="231.9">0.75</text>
<text class="a m" x="167.1" y="332.67">0.75</text>
<text class="a e" x="16.32" y="202.8">1.00</text>
<text class="a m" x="213" y="332.67">1.00</text>
<rect x="236.9" y="224.05" width="15.4" height="16.2" fill="#fff" stroke="#000" stroke-width="1.0"/>
<path d="M238.4 232.45H250.9" stroke="#2C7BB6" stroke-width="2.0"/>
<circle cx="244.6" cy="232.45" r="2.35" fill="#2C7BB6"/>
<text class="l" x="257.6" y="231.32">Imputed HLA</text>
<text class="l" x="257.6" y="239.42">AUC=0.756</text>
<rect x="236.9" y="240.25" width="15.4" height="16.2" fill="#fff" stroke="#000" stroke-width="1.0"/>
<path d="M238.4 248.65H250.9" stroke="#ABD9E9" stroke-width="2.0"/>
<circle cx="244.6" cy="248.65" r="2.35" fill="#ABD9E9"/>
<text class="l" x="257.6" y="247.52">LDpred</text>
<text class="l" x="257.6" y="255.62">AUC=0.732</text>
<rect x="236.9" y="256.45" width="15.4" height="16.2" fill="#fff" stroke="#000" stroke-width="1.0"/>
<path d="M238.4 264.85H250.9" stroke="#FDAE61" stroke-width="2.0"/>
<circle cx="244.6" cy="264.85" r="2.35" fill="#FDAE61"/>
<text class="l" x="257.6" y="263.72">Sequenced HLA</text>
<text class="l" x="257.6" y="271.82">AUC=0.754</text>
<rect x="236.9" y="272.65" width="15.4" height="24.3" fill="#fff" stroke="#000" stroke-width="1.0"/>
<path d="M238.4 285.1H250.9" stroke="#D7191C" stroke-width="2.0"/>
<circle cx="244.6" cy="285.1" r="2.35" fill="#D7191C"/>
<text class="l" x="257.6" y="279.92">Sequenced HLA</text>
<text class="l" x="257.6" y="288.02">with Imputed Genes</text>
<text class="l" x="257.6" y="296.12">AUC=0.753</text>
<text class="t" x="376.12" y="186.6">Multiple Sclerosis and Demyelinating Diseases</text>
<path d="M407.95 194.28V322.32M375.82 301.95H577.78M453.85 194.28V322.32M375.82 272.85H577.78M499.75 194.28V322.32M375.82 243.75H577.78M545.65 194.28V322.32M375.82 214.65H577.78" stroke="#F3F3F3" stroke-width="0.8" fill="none"/>
<path d="M385 194.28V322.32M375.82 316.5H577.78M430.9 194.28V322.32M375.82 287.4H577.78M476.8 194.28V322.32M375.82 258.3H577.78M522.7 194.28V322.32M375.82 229.2H577.78M568.6 194.28V322.32M375.82 200.1H577.78" stroke="#EBEBEB" stroke-width="1.1" fill="none"/>
<path d="M385.0 316.5L385.0 316.4L385.1 316.2L385.2 315.8L385.3 315.2L385.4 314.5L385.6 313.6L385.8 312.6L386.1 311.5L386.4 310.3L386.5 309.8L386.7 309.1L386.8 308.7L387.1 307.9L387.5 306.7L387.9 305.4L388.1 304.9L388.4 304.1L388.9 302.8L389.4 301.4L389.6 301.0L390.0 300.1L390.6 298.7L391.1 297.4L391.2 297.2L391.4 296.7L391.9 295.6L392.6 294.0L392.6 293.9L393.3 292.3L394.1 290.6L394.2 290.4L394.9 288.8L395.7 287.2L395.8 287.1L396.6 285.4L397.2 284.4L397.5 283.9L397.9 283.4L398.5 282.5L398.8 282.2L399.5 281.3L400.3 280.3L400.5 280.1L401.5 279.0L401.8 278.7L402.6 277.8L403.4 277.1L403.7 276.7L404.6 275.8L404.9 275.5L404.9 275.5L406.1 274.2L406.4 273.8L407.3 272.9L407.9 272.2L408.6 271.5L409.5 270.5L409.9 270.1L411.0 268.9L411.2 268.7L412.5 267.3L414.1 265.7L415.6 264.1L417.1 262.6L418.7 261.0L420.2 259.6L421.7 258.2L423.2 256.8L424.8 255.5L425.0 255.3L426.3 254.2L427.8 253.0L429.4 251.8L430.9 250.7L432.4 249.6L434.0 248.5L435.5 247.5L437.0 246.4L438.6 245.4L440.1 244.4L441.6 243.4L443.1 242.4L444.7 241.4L445.2 241.1L446.2 240.4L447.7 239.4L449.3 238.4L450.8 237.4L452.3 236.4L453.9 235.5L455.4 234.5L456.9 233.5L458.4 232.6L460.0 231.7L461.5 230.9L463.0 230.1L464.6 229.3L465.8 228.7L466.1 228.6L467.6 227.9L469.1 227.3L470.7 226.7L472.2 226.1L473.7 225.5L475.3 225.0L476.8 224.5L478.3 223.9L479.9 223.4L481.4 222.9L482.9 222.4L484.4 221.8L486.0 221.3L486.5 221.1L487.5 220.7L489.0 220.1L490.6 219.5L492.1 218.8L493.6 218.2L495.2 217.6L496.7 216.9L498.2 216.3L499.8 215.7L501.3 215.1L502.8 214.5L504.3 213.9L505.9 213.4L507.3 212.9L507.4 212.9L508.9 212.4L510.5 211.9L512.0 211.4L513.5 210.9L515.0 210.5L516.6 210.1L518.1 209.6L519.6 209.2L521.2 208.8L522.7 208.4L524.2 208.0L525.8 207.6L527.3 207.2L527.7 207.1L528.8 206.8L530.4 206.4L531.9 206.0L533.4 205.6L534.9 205.2L536.5 204.8L538.0 204.4L539.5 204.0L541.1 203.6L542.6 203.3L544.1 203.0L545.6 202.7L547.2 202.4L548.0 202.3L548.7 202.2L550.2 202.0L551.8 201.8L553.3 201.6L554.8 201.4L556.4 201.2L557.9 201.0L559.4 200.8L561.0 200.7L562.5 200.5L564.0 200.4L565.5 200.3L567.1 200.2L568.6 200.1" stroke="#2C7BB6" stroke-width="2.1" fill="none"/>
<g fill="#2C7BB6"><circle cx="385.00" cy="316.50" r="2.35"/><circle cx="404.65" cy="275.76" r="2.35"/><circle cx="425.02" cy="255.27" r="2.35"/><circle cx="445.22" cy="241.07" r="2.35"/><circle cx="465.78" cy="228.73" r="2.35"/><circle cx="486.53" cy="221.05" r="2.35"/><circle cx="507.28" cy="212.90" r="2.35"/><circle cx="527.66" cy="207.08" r="2.35"/><circle cx="548.04" cy="202.31" r="2.35"/><circle cx="568.60" cy="200.10" r="2.35"/></g>
<path d="M385.0 316.5L385.0 316.4L385.1 316.3L385.2 316.0L385.3 315.6L385.4 315.1L385.6 314.5L385.8 313.8L386.1 313.0L386.4 312.2L386.5 311.8L386.7 311.2L387.1 310.2L387.5 309.1L387.9 307.9L388.1 307.6L388.4 306.8L388.5 306.5L388.9 305.6L389.4 304.4L389.6 304.0L390.0 303.1L390.6 301.9L391.1 300.8L391.2 300.6L391.9 299.3L392.5 298.1L392.6 298.0L392.6 297.9L393.3 296.6L394.1 295.1L394.2 294.9L394.9 293.5L395.7 292.1L395.8 292.0L396.6 290.5L397.2 289.6L397.5 289.1L398.5 287.9L398.8 287.6L399.5 287.0L400.3 286.3L400.5 286.2L401.5 285.5L401.8 285.3L402.6 284.8L403.4 284.4L403.7 284.1L404.6 283.4L404.9 283.2L404.9 283.2L406.1 282.2L406.4 282.0L407.3 281.2L407.9 280.6L408.6 280.0L409.5 279.1L409.9 278.7L411.0 277.6L411.2 277.4L412.5 276.0L414.1 274.4L415.6 272.8L417.1 271.3L418.7 269.7L420.2 268.2L421.7 266.7L423.2 265.3L424.8 264.0L425.0 263.8L426.3 262.7L427.8 261.5L429.4 260.4L430.9 259.2L432.4 258.1L434.0 257.0L435.5 255.9L437.0 254.9L438.6 253.8L440.1 252.8L441.6 251.8L443.1 250.9L444.7 249.9L445.2 249.6L446.2 249.0L447.7 248.1L449.3 247.2L450.8 246.3L452.3 245.5L453.9 244.6L455.4 243.8L456.9 243.0L458.4 242.2L460.0 241.4L461.5 240.6L463.0 239.8L464.6 238.9L465.8 238.3L466.1 238.1L467.6 237.3L469.1 236.4L470.7 235.5L472.2 234.6L473.7 233.8L475.3 232.9L476.8 232.0L478.3 231.1L479.9 230.3L481.4 229.5L482.9 228.7L484.4 227.9L486.0 227.1L486.5 226.9L487.5 226.4L489.0 225.7L490.6 225.0L492.1 224.4L493.6 223.7L495.2 223.1L496.7 222.5L498.2 221.9L499.8 221.3L501.3 220.7L502.8 220.1L504.3 219.5L505.9 218.9L507.3 218.4L507.4 218.3L508.9 217.7L510.5 217.1L512.0 216.6L513.5 216.0L515.0 215.4L516.6 214.8L518.1 214.3L519.6 213.7L521.2 213.1L522.7 212.6L524.2 212.0L525.8 211.5L527.3 210.9L527.7 210.8L528.8 210.4L530.4 209.8L531.9 209.3L533.4 208.7L534.9 208.1L536.5 207.6L538.0 207.0L539.5 206.5L541.1 206.0L542.6 205.5L544.1 205.0L545.6 204.6L547.2 204.2L548.0 203.9L548.7 203.8L550.2 203.4L551.8 203.1L553.3 202.7L554.8 202.4L556.4 202.1L557.9 201.8L559.4 201.5L561.0 201.2L562.5 200.9L564.0 200.7L565.5 200.5L567.1 200.3L568.6 200.1" stroke="#ABD9E9" stroke-width="2.1" fill="none" stroke-dasharray="3.6 3.4"/>
<g fill="#ABD9E9"><circle cx="385.00" cy="316.50" r="2.35"/><circle cx="404.65" cy="283.44" r="2.35"/><circle cx="425.02" cy="263.77" r="2.35"/><circle cx="445.22" cy="249.57" r="2.35"/><circle cx="465.78" cy="238.28" r="2.35"/><circle cx="486.53" cy="226.87" r="2.35"/><circle cx="507.28" cy="218.37" r="2.35"/><circle cx="527.66" cy="210.81" r="2.35"/><circle cx="548.04" cy="203.94" r="2.35"/><circle cx="568.60" cy="200.10" r="2.35"/></g>
<path d="M385.0 316.5L385.0 316.4L385.1 316.2L385.2 315.8L385.3 315.3L385.4 314.6L385.6 313.8L385.8 312.8L386.1 311.7L386.4 310.6L386.5 310.1L386.7 309.4L386.8 309.1L387.1 308.3L387.5 307.0L387.9 305.8L388.1 305.4L388.4 304.5L388.9 303.2L389.4 301.9L389.6 301.4L390.0 300.5L390.6 299.1L391.1 297.9L391.2 297.7L391.4 297.2L391.9 296.1L392.6 294.5L392.6 294.3L393.3 292.8L394.1 291.0L394.2 290.9L394.9 289.3L395.7 287.6L395.8 287.5L396.6 285.9L397.2 284.9L397.5 284.4L397.9 283.9L398.5 283.0L398.8 282.6L399.5 281.8L400.3 280.8L400.5 280.6L401.5 279.5L401.8 279.2L402.6 278.4L403.4 277.7L403.7 277.3L404.6 276.3L404.9 276.1L404.9 276.1L406.1 274.8L406.4 274.5L407.3 273.5L407.9 272.8L408.6 272.2L409.5 271.2L409.9 270.8L411.0 269.6L411.2 269.4L412.5 268.0L414.1 266.4L415.6 264.9L417.1 263.3L418.7 261.8L420.2 260.4L421.7 258.9L423.2 257.5L424.8 256.2L425.0 256.0L426.3 254.9L427.8 253.6L429.4 252.3L430.9 251.1L432.4 249.8L434.0 248.6L435.5 247.5L437.0 246.3L438.6 245.2L440.1 244.1L441.6 243.0L443.1 242.0L444.7 241.0L445.2 240.6L446.2 240.0L447.7 239.0L449.3 238.0L450.8 237.1L452.3 236.1L453.9 235.2L455.4 234.3L456.9 233.5L458.4 232.6L460.0 231.8L461.5 231.0L463.0 230.3L464.6 229.5L465.8 229.0L466.1 228.8L467.6 228.2L469.1 227.5L470.7 226.9L472.2 226.4L473.7 225.8L475.3 225.3L476.8 224.7L478.3 224.2L479.9 223.7L481.4 223.1L482.9 222.6L484.4 222.1L486.0 221.5L486.5 221.3L487.5 220.9L489.0 220.3L490.6 219.7L492.1 219.1L493.6 218.4L495.2 217.8L496.7 217.2L498.2 216.6L499.8 215.9L501.3 215.3L502.8 214.7L504.3 214.2L505.9 213.6L507.3 213.1L507.4 213.1L508.9 212.6L510.5 212.1L512.0 211.6L513.5 211.1L515.0 210.6L516.6 210.2L518.1 209.7L519.6 209.3L521.2 208.8L522.7 208.4L524.2 208.0L525.8 207.6L527.3 207.2L527.7 207.1L528.8 206.8L530.4 206.4L531.9 206.0L533.4 205.6L534.9 205.2L536.5 204.8L538.0 204.4L539.5 204.0L541.1 203.6L542.6 203.3L544.1 203.0L545.6 202.7L547.2 202.4L548.0 202.3L548.7 202.2L550.2 202.0L551.8 201.8L553.3 201.6L554.8 201.4L556.4 201.2L557.9 201.0L559.4 200.8L561.0 200.7L562.5 200.5L564.0 200.4L565.5 200.3L567.1 200.2L568.6 200.1" stroke="#FDAE61" stroke-width="2.1" fill="none" stroke-dasharray="6 2.6"/>
<g fill="#FDAE61"><circle cx="385.00" cy="316.50" r="2.35"/><circle cx="404.65" cy="276.34" r="2.35"/><circle cx="425.02" cy="255.97" r="2.35"/><circle cx="445.22" cy="240.61" r="2.35"/><circle cx="465.78" cy="228.97" r="2.35"/><circle cx="486.53" cy="221.28" r="2.35"/><circle cx="507.28" cy="213.14" r="2.35"/><circle cx="527.66" cy="207.08" r="2.35"/><circle cx="548.04" cy="202.31" r="2.35"/><circle cx="568.60" cy="200.10" r="2.35"/></g>
<path d="M385.0 316.5L385.0 316.4L385.1 316.3L385.2 316.0L385.3 315.6L385.4 315.1L385.6 314.4L385.8 313.7L386.1 312.9L386.4 311.9L386.5 311.5L386.7 310.9L386.8 310.7L387.1 309.8L387.5 308.6L387.9 307.3L388.1 306.9L388.4 306.0L388.9 304.5L389.4 303.0L389.6 302.5L390.0 301.5L390.5 300.2L390.6 300.0L391.1 298.8L391.2 298.6L391.9 297.1L392.6 295.6L392.6 295.5L393.3 294.1L394.1 292.6L394.2 292.5L394.9 291.1L395.6 289.7L395.7 289.6L395.8 289.5L396.6 287.9L397.2 286.8L397.5 286.2L398.5 284.6L398.8 284.2L399.3 283.4L399.5 283.3L400.3 282.3L400.5 282.1L401.5 281.1L401.8 280.8L402.6 280.1L403.4 279.5L403.7 279.2L404.6 278.3L404.9 278.1L404.9 278.1L406.1 276.9L406.4 276.6L407.3 275.7L407.9 275.0L408.6 274.4L409.5 273.4L409.9 273.0L411.0 271.8L411.2 271.7L412.5 270.2L414.1 268.6L415.6 267.0L417.1 265.5L418.7 263.9L420.2 262.4L421.7 261.0L423.2 259.6L424.8 258.3L425.0 258.1L426.3 257.0L427.8 255.8L429.4 254.6L430.9 253.4L432.4 252.3L434.0 251.2L435.5 250.1L437.0 249.0L438.6 248.0L440.1 246.9L441.6 245.9L443.1 244.9L444.7 243.9L445.2 243.5L446.2 242.9L447.7 241.9L449.3 240.9L450.8 239.9L452.3 238.9L453.9 237.9L455.4 237.0L456.9 236.0L458.4 235.1L460.0 234.2L461.5 233.3L463.0 232.5L464.6 231.7L465.8 231.1L466.1 230.9L467.6 230.2L469.1 229.4L470.7 228.7L472.2 228.1L473.7 227.4L475.3 226.7L476.8 226.1L478.3 225.5L479.9 224.9L481.4 224.2L482.9 223.6L484.4 223.0L486.0 222.3L486.5 222.1L487.5 221.7L489.0 221.0L490.6 220.3L492.1 219.7L493.6 219.0L495.2 218.3L496.7 217.6L498.2 217.0L499.8 216.3L501.3 215.7L502.8 215.1L504.3 214.5L505.9 213.9L507.3 213.4L507.4 213.3L508.9 212.8L510.5 212.3L512.0 211.7L513.5 211.2L515.0 210.8L516.6 210.3L518.1 209.8L519.6 209.3L521.2 208.9L522.7 208.4L524.2 208.0L525.8 207.6L527.3 207.2L527.7 207.1L528.8 206.8L530.4 206.4L531.9 205.9L533.4 205.5L534.9 205.1L536.5 204.7L538.0 204.4L539.5 204.0L541.1 203.6L542.6 203.3L544.1 203.0L545.6 202.7L547.2 202.4L548.0 202.3L548.7 202.2L550.2 202.0L551.8 201.8L553.3 201.6L554.8 201.4L556.4 201.2L557.9 201.0L559.4 200.8L561.0 200.7L562.5 200.5L564.0 200.4L565.5 200.3L567.1 200.2L568.6 200.1" stroke="#D7191C" stroke-width="2.1" fill="none" stroke-dasharray="7 7"/>
<g fill="#D7191C"><circle cx="385.00" cy="316.50" r="2.35"/><circle cx="404.65" cy="278.32" r="2.35"/><circle cx="425.02" cy="258.07" r="2.35"/><circle cx="445.22" cy="243.52" r="2.35"/><circle cx="465.78" cy="231.06" r="2.35"/><circle cx="486.53" cy="222.10" r="2.35"/><circle cx="507.28" cy="213.37" r="2.35"/><circle cx="527.66" cy="207.08" r="2.35"/><circle cx="548.04" cy="202.31" r="2.35"/><circle cx="568.60" cy="200.10" r="2.35"/></g>
<path d="M385 316.5L568.6 200.1" stroke="#000" stroke-width="1.2" stroke-dasharray="3.8 3.8" fill="none"/>
<rect x="376.07" y="194.48" width="201.46" height="127.64" fill="none" stroke="#333" stroke-width="0.75"/>
<path d="M373.32 316.5H376.07M385 322.12V325.22M373.32 287.4H376.07M430.9 322.12V325.22M373.32 258.3H376.07M476.8 322.12V325.22M373.32 229.2H376.07M522.7 322.12V325.22M373.32 200.1H376.07M568.6 322.12V325.22" stroke="#333" stroke-width="1.1" fill="none"/>
<text class="a e" x="371.22" y="319.2">0.00</text>
<text class="a m" x="385" y="332.67">0.00</text>
<text class="a e" x="371.22" y="290.1">0.25</text>
<text class="a m" x="430.9" y="332.67">0.25</text>
<text class="a e" x="371.22" y="261">0.50</text>
<text class="a m" x="476.8" y="332.67">0.50</text>
<text class="a e" x="371.22" y="231.9">0.75</text>
<text class="a m" x="522.7" y="332.67">0.75</text>
<text class="a e" x="371.22" y="202.8">1.00</text>
<text class="a m" x="568.6" y="332.67">1.00</text>
<rect x="592.5" y="224.05" width="15.4" height="16.2" fill="#fff" stroke="#000" stroke-width="1.0"/>
<path d="M594 232.45H606.5" stroke="#2C7BB6" stroke-width="2.0"/>
<circle cx="600.2" cy="232.45" r="2.35" fill="#2C7BB6"/>
<text class="l" x="613.2" y="231.32">Imputed HLA</text>
<text class="l" x="613.2" y="239.42">AUC=0.714</text>
<rect x="592.5" y="240.25" width="15.4" height="16.2" fill="#fff" stroke="#000" stroke-width="1.0"/>
<path d="M594 248.65H606.5" stroke="#ABD9E9" stroke-width="2.0"/>
<circle cx="600.2" cy="248.65" r="2.35" fill="#ABD9E9"/>
<text class="l" x="613.2" y="247.52">LDpred</text>
<text class="l" x="613.2" y="255.62">AUC=0.669</text>
<rect x="592.5" y="256.45" width="15.4" height="16.2" fill="#fff" stroke="#000" stroke-width="1.0"/>
<path d="M594 264.85H606.5" stroke="#FDAE61" stroke-width="2.0"/>
<circle cx="600.2" cy="264.85" r="2.35" fill="#FDAE61"/>
<text class="l" x="613.2" y="263.72">Sequenced HLA</text>
<text class="l" x="613.2" y="271.82">AUC=0.709</text>
<rect x="592.5" y="272.65" width="15.4" height="24.3" fill="#fff" stroke="#000" stroke-width="1.0"/>
<path d="M594 285.1H606.5" stroke="#D7191C" stroke-width="2.0"/>
<circle cx="600.2" cy="285.1" r="2.35" fill="#D7191C"/>
<text class="l" x="613.2" y="279.92">Sequenced HLA</text>
<text class="l" x="613.2" y="288.02">with Imputed Genes</text>
<text class="l" x="613.2" y="296.12">AUC=0.706</text>
<text class="t" x="20.52" y="364.3">Psoriasis</text>
<path d="M52.35 371.98V500.02M20.22 479.65H222.18M98.25 371.98V500.02M20.22 450.55H222.18M144.15 371.98V500.02M20.22 421.45H222.18M190.05 371.98V500.02M20.22 392.35H222.18" stroke="#F3F3F3" stroke-width="0.8" fill="none"/>
<path d="M29.4 371.98V500.02M20.22 494.2H222.18M75.3 371.98V500.02M20.22 465.1H222.18M121.2 371.98V500.02M20.22 436H222.18M167.1 371.98V500.02M20.22 406.9H222.18M213 371.98V500.02M20.22 377.8H222.18" stroke="#EBEBEB" stroke-width="1.1" fill="none"/>
<path d="M29.4 494.2L29.4 494.1L29.5 494.0L29.6 493.7L29.7 493.4L29.8 492.9L30.0 492.3L30.2 491.7L30.5 490.9L30.8 490.1L30.9 489.7L31.1 489.2L31.5 488.2L31.7 487.6L31.9 487.2L32.3 486.1L32.5 485.8L32.8 485.1L33.3 483.9L33.8 482.7L34.0 482.3L34.4 481.5L35.0 480.3L35.5 479.3L35.5 479.2L35.6 479.0L36.3 477.6L37.0 476.3L37.0 476.1L37.7 474.8L38.5 473.4L38.6 473.3L39.3 472.0L40.1 470.6L40.2 470.6L40.6 469.9L41.0 469.2L41.6 468.3L41.9 467.9L42.9 466.6L43.2 466.3L43.9 465.3L44.7 464.3L44.9 464.1L45.9 462.8L46.2 462.5L47.0 461.5L47.8 460.7L48.1 460.2L48.7 459.6L49.3 458.9L49.3 458.9L50.5 457.6L50.8 457.2L51.7 456.2L52.3 455.5L53.0 454.9L53.9 453.9L54.3 453.5L55.4 452.3L55.6 452.1L56.9 450.8L57.3 450.4L58.5 449.3L60.0 447.9L61.5 446.5L63.1 445.1L64.6 443.7L66.1 442.4L67.7 441.2L68.9 440.2L69.2 439.9L70.7 438.8L72.2 437.6L73.8 436.5L75.3 435.3L76.8 434.2L78.4 433.2L79.9 432.1L81.4 431.1L83.0 430.0L84.5 429.0L86.0 428.1L87.5 427.1L89.1 426.1L89.3 426.0L90.6 425.2L92.1 424.2L93.7 423.3L95.2 422.4L96.7 421.5L98.2 420.6L99.8 419.7L101.3 418.8L102.8 418.0L104.4 417.2L105.9 416.3L107.4 415.5L109.0 414.7L109.4 414.5L110.5 413.9L112.0 413.2L113.5 412.4L115.1 411.6L116.6 410.9L118.1 410.1L119.7 409.4L121.2 408.7L122.7 408.0L124.3 407.3L125.8 406.6L127.3 405.9L128.8 405.3L130.0 404.8L130.4 404.7L131.9 404.0L133.4 403.5L135.0 402.9L136.5 402.3L138.0 401.8L139.6 401.3L141.1 400.7L142.6 400.2L144.2 399.7L145.7 399.2L147.2 398.6L148.7 398.1L150.3 397.5L150.8 397.4L151.8 397.0L153.3 396.4L154.9 395.8L156.4 395.2L157.9 394.6L159.5 394.0L161.0 393.5L162.5 392.9L164.0 392.3L165.6 391.7L167.1 391.1L168.6 390.6L170.2 390.0L171.1 389.7L171.7 389.5L173.2 388.9L174.8 388.4L176.3 387.9L177.8 387.3L179.3 386.8L180.9 386.3L182.4 385.8L183.9 385.3L185.5 384.8L187.0 384.3L188.5 383.8L190.1 383.4L191.6 382.9L192.4 382.7L193.1 382.5L194.6 382.1L196.2 381.7L197.7 381.3L199.2 380.9L200.8 380.5L202.3 380.1L203.8 379.8L205.3 379.4L206.9 379.1L208.4 378.7L209.9 378.4L211.5 378.1L213.0 377.8" stroke="#2C7BB6" stroke-width="2.1" fill="none"/>
<g fill="#2C7BB6"><circle cx="29.40" cy="494.20" r="2.35"/><circle cx="48.68" cy="459.63" r="2.35"/><circle cx="68.87" cy="440.19" r="2.35"/><circle cx="89.25" cy="425.99" r="2.35"/><circle cx="109.45" cy="414.47" r="2.35"/><circle cx="130.01" cy="404.80" r="2.35"/><circle cx="150.76" cy="397.36" r="2.35"/><circle cx="171.14" cy="389.67" r="2.35"/><circle cx="192.44" cy="382.69" r="2.35"/><circle cx="213.00" cy="377.80" r="2.35"/></g>
<path d="M29.4 494.2L29.4 494.2L29.5 494.0L29.6 493.8L29.7 493.5L29.8 493.1L30.0 492.6L30.2 492.0L30.5 491.3L30.8 490.6L30.9 490.3L31.1 489.8L31.5 488.9L31.7 488.4L31.9 488.1L32.3 487.1L32.5 486.8L32.8 486.1L33.3 485.1L33.8 484.0L34.0 483.6L34.4 482.9L35.0 481.7L35.5 480.8L35.5 480.7L35.6 480.5L36.3 479.3L37.0 478.0L37.0 477.9L37.7 476.7L38.5 475.4L38.6 475.2L39.3 474.0L40.1 472.8L40.2 472.7L40.6 472.1L41.0 471.5L41.6 470.7L41.9 470.2L42.9 469.0L43.2 468.7L43.9 467.8L44.7 466.9L44.9 466.6L45.9 465.5L46.2 465.1L47.0 464.3L47.8 463.4L48.1 463.0L48.7 462.4L49.3 461.7L49.3 461.7L50.5 460.4L50.8 460.0L51.7 459.1L52.3 458.4L53.0 457.7L53.9 456.8L54.3 456.4L55.4 455.2L55.6 455.1L56.9 453.8L57.3 453.5L58.5 452.5L60.0 451.2L61.5 450.1L63.1 449.0L64.6 447.9L66.1 446.8L67.7 445.7L68.9 444.8L69.2 444.6L70.7 443.5L72.2 442.4L73.8 441.3L75.3 440.2L76.8 439.1L78.4 438.0L79.9 437.0L81.4 435.9L83.0 434.9L84.5 433.8L86.0 432.8L87.5 431.8L89.1 430.9L89.3 430.8L90.6 429.9L92.1 429.0L93.7 428.1L95.2 427.2L96.7 426.3L98.2 425.4L99.8 424.6L101.3 423.7L102.8 422.9L104.4 422.0L105.9 421.2L107.4 420.4L109.0 419.6L109.4 419.4L110.5 418.8L112.0 418.0L113.5 417.3L115.1 416.5L116.6 415.8L118.1 415.1L119.7 414.4L121.2 413.6L122.7 412.9L124.3 412.2L125.8 411.5L127.3 410.8L128.8 410.1L130.0 409.6L130.4 409.4L131.9 408.7L133.4 408.0L135.0 407.3L136.5 406.6L138.0 405.9L139.6 405.2L141.1 404.5L142.6 403.8L144.2 403.1L145.7 402.4L147.2 401.7L148.7 401.0L150.3 400.4L150.8 400.1L151.8 399.7L153.3 399.0L154.9 398.4L156.4 397.7L157.9 397.1L159.5 396.4L161.0 395.8L162.5 395.2L164.0 394.5L165.6 393.9L167.1 393.3L168.6 392.7L170.2 392.0L171.1 391.7L171.7 391.4L173.2 390.8L174.8 390.2L176.3 389.6L177.8 389.0L179.3 388.4L180.9 387.8L182.4 387.2L183.9 386.6L185.5 386.1L187.0 385.5L188.5 384.9L190.1 384.4L191.6 383.9L192.4 383.6L193.1 383.4L194.6 382.9L196.2 382.4L197.7 382.0L199.2 381.5L200.8 381.1L202.3 380.6L203.8 380.2L205.3 379.8L206.9 379.3L208.4 378.9L209.9 378.5L211.5 378.2L213.0 377.8" stroke="#ABD9E9" stroke-width="2.1" fill="none" stroke-dasharray="3.6 3.4"/>
<g fill="#ABD9E9"><circle cx="29.40" cy="494.20" r="2.35"/><circle cx="48.68" cy="462.42" r="2.35"/><circle cx="68.87" cy="444.85" r="2.35"/><circle cx="89.25" cy="430.76" r="2.35"/><circle cx="109.45" cy="419.35" r="2.35"/><circle cx="130.01" cy="409.58" r="2.35"/><circle cx="150.76" cy="400.15" r="2.35"/><circle cx="171.14" cy="391.65" r="2.35"/><circle cx="192.44" cy="383.62" r="2.35"/><circle cx="213.00" cy="377.80" r="2.35"/></g>
<path d="M29.4 494.2L29.4 494.1L29.5 494.0L29.6 493.7L29.7 493.4L29.8 492.9L30.0 492.3L30.2 491.7L30.5 490.9L30.8 490.1L30.9 489.7L31.1 489.2L31.5 488.2L31.7 487.6L31.9 487.2L32.3 486.1L32.5 485.8L32.8 485.1L33.3 483.9L33.8 482.7L34.0 482.3L34.4 481.5L35.0 480.3L35.5 479.3L35.5 479.2L35.6 479.0L36.3 477.6L37.0 476.3L37.0 476.1L37.7 474.8L38.5 473.4L38.6 473.3L39.3 472.0L40.1 470.6L40.2 470.6L40.6 469.9L41.0 469.2L41.6 468.3L41.9 467.9L42.9 466.6L43.2 466.3L43.9 465.3L44.7 464.3L44.9 464.1L45.9 462.8L46.2 462.5L47.0 461.5L47.8 460.7L48.1 460.2L48.7 459.6L49.3 458.9L49.3 458.9L50.5 457.6L50.8 457.2L51.7 456.2L52.3 455.5L53.0 454.9L53.9 453.9L54.3 453.5L55.4 452.3L55.6 452.1L56.9 450.8L57.3 450.4L58.5 449.3L60.0 447.9L61.5 446.5L63.1 445.1L64.6 443.7L66.1 442.4L67.7 441.2L68.9 440.2L69.2 439.9L70.7 438.8L72.2 437.6L73.8 436.5L75.3 435.3L76.8 434.2L78.4 433.2L79.9 432.1L81.4 431.1L83.0 430.0L84.5 429.0L86.0 428.1L87.5 427.1L89.1 426.1L89.3 426.0L90.6 425.2L92.1 424.2L93.7 423.3L95.2 422.4L96.7 421.5L98.2 420.6L99.8 419.7L101.3 418.8L102.8 418.0L104.4 417.2L105.9 416.3L107.4 415.5L109.0 414.7L109.4 414.5L110.5 413.9L112.0 413.2L113.5 412.4L115.1 411.6L116.6 410.9L118.1 410.1L119.7 409.4L121.2 408.7L122.7 408.0L124.3 407.3L125.8 406.6L127.3 405.9L128.8 405.3L130.0 404.8L130.4 404.7L131.9 404.0L133.4 403.5L135.0 402.9L136.5 402.3L138.0 401.8L139.6 401.3L141.1 400.7L142.6 400.2L144.2 399.7L145.7 399.2L147.2 398.6L148.7 398.1L150.3 397.5L150.8 397.4L151.8 397.0L153.3 396.4L154.9 395.8L156.4 395.2L157.9 394.6L159.5 394.0L161.0 393.5L162.5 392.9L164.0 392.3L165.6 391.7L167.1 391.1L168.6 390.6L170.2 390.0L171.1 389.7L171.7 389.5L173.2 388.9L174.8 388.4L176.3 387.9L177.8 387.3L179.3 386.8L180.9 386.3L182.4 385.8L183.9 385.3L185.5 384.8L187.0 384.3L188.5 383.8L190.1 383.4L191.6 382.9L192.4 382.7L193.1 382.5L194.6 382.1L196.2 381.7L197.7 381.3L199.2 380.9L200.8 380.5L202.3 380.1L203.8 379.8L205.3 379.4L206.9 379.1L208.4 378.7L209.9 378.4L211.5 378.1L213.0 377.8" stroke="#FDAE61" stroke-width="2.1" fill="none" stroke-dasharray="6 2.6"/>
<g fill="#FDAE61"><circle cx="29.40" cy="494.20" r="2.35"/><circle cx="48.68" cy="459.63" r="2.35"/><circle cx="68.87" cy="440.19" r="2.35"/><circle cx="89.25" cy="425.99" r="2.35"/><circle cx="109.45" cy="414.47" r="2.35"/><circle cx="130.01" cy="404.80" r="2.35"/><circle cx="150.76" cy="397.36" r="2.35"/><circle cx="171.14" cy="389.67" r="2.35"/><circle cx="192.44" cy="382.69" r="2.35"/><circle cx="213.00" cy="377.80" r="2.35"/></g>
<path d="M29.4 494.2L29.4 494.1L29.5 494.0L29.6 493.7L29.7 493.4L29.8 492.9L30.0 492.3L30.2 491.7L30.5 490.9L30.8 490.1L30.9 489.7L31.1 489.2L31.5 488.2L31.7 487.6L31.9 487.2L32.3 486.1L32.5 485.8L32.8 485.1L33.3 483.9L33.8 482.7L34.0 482.3L34.4 481.5L35.0 480.3L35.5 479.3L35.5 479.2L35.6 479.0L36.3 477.6L37.0 476.3L37.0 476.1L37.7 474.8L38.5 473.4L38.6 473.3L39.3 472.0L40.1 470.6L40.2 470.6L40.6 469.9L41.0 469.2L41.6 468.3L41.9 467.9L42.9 466.6L43.2 466.3L43.9 465.3L44.7 464.3L44.9 464.1L45.9 462.8L46.2 462.5L47.0 461.5L47.8 460.7L48.1 460.2L48.7 459.6L49.3 458.9L49.3 458.9L50.5 457.6L50.8 457.2L51.7 456.2L52.3 455.5L53.0 454.9L53.9 453.9L54.3 453.5L55.4 452.3L55.6 452.1L56.9 450.8L57.3 450.4L58.5 449.3L60.0 447.9L61.5 446.5L63.1 445.1L64.6 443.7L66.1 442.4L67.7 441.2L68.9 440.2L69.2 439.9L70.7 438.8L72.2 437.6L73.8 436.5L75.3 435.3L76.8 434.2L78.4 433.2L79.9 432.1L81.4 431.1L83.0 430.0L84.5 429.0L86.0 428.1L87.5 427.1L89.1 426.1L89.3 426.0L90.6 425.2L92.1 424.2L93.7 423.3L95.2 422.4L96.7 421.5L98.2 420.6L99.8 419.7L101.3 418.8L102.8 418.0L104.4 417.2L105.9 416.3L107.4 415.5L109.0 414.7L109.4 414.5L110.5 413.9L112.0 413.2L113.5 412.4L115.1 411.6L116.6 410.9L118.1 410.1L119.7 409.4L121.2 408.7L122.7 408.0L124.3 407.3L125.8 406.6L127.3 405.9L128.8 405.3L130.0 404.8L130.4 404.7L131.9 404.0L133.4 403.5L135.0 402.9L136.5 402.3L138.0 401.8L139.6 401.3L141.1 400.7L142.6 400.2L144.2 399.7L145.7 399.2L147.2 398.6L148.7 398.1L150.3 397.5L150.8 397.4L151.8 397.0L153.3 396.4L154.9 395.8L156.4 395.2L157.9 394.6L159.5 394.0L161.0 393.5L162.5 392.9L164.0 392.3L165.6 391.7L167.1 391.1L168.6 390.6L170.2 390.0L171.1 389.7L171.7 389.5L173.2 388.9L174.8 388.4L176.3 387.9L177.8 387.3L179.3 386.8L180.9 386.3L182.4 385.8L183.9 385.3L185.5 384.8L187.0 384.3L188.5 383.8L190.1 383.4L191.6 382.9L192.4 382.7L193.1 382.5L194.6 382.1L196.2 381.7L197.7 381.3L199.2 380.9L200.8 380.5L202.3 380.1L203.8 379.8L205.3 379.4L206.9 379.1L208.4 378.7L209.9 378.4L211.5 378.1L213.0 377.8" stroke="#D7191C" stroke-width="2.1" fill="none" stroke-dasharray="7 7"/>
<g fill="#D7191C"><circle cx="29.40" cy="494.20" r="2.35"/><circle cx="48.68" cy="459.63" r="2.35"/><circle cx="68.87" cy="440.19" r="2.35"/><circle cx="89.25" cy="425.99" r="2.35"/><circle cx="109.45" cy="414.47" r="2.35"/><circle cx="130.01" cy="404.80" r="2.35"/><circle cx="150.76" cy="397.36" r="2.35"/><circle cx="171.14" cy="389.67" r="2.35"/><circle cx="192.44" cy="382.69" r="2.35"/><circle cx="213.00" cy="377.80" r="2.35"/></g>
<path d="M29.4 494.2L213 377.8" stroke="#000" stroke-width="1.2" stroke-dasharray="3.8 3.8" fill="none"/>
<rect x="20.47" y="372.18" width="201.46" height="127.64" fill="none" stroke="#333" stroke-width="0.75"/>
<path d="M17.72 494.2H20.47M29.4 499.82V502.92M17.72 465.1H20.47M75.3 499.82V502.92M17.72 436H20.47M121.2 499.82V502.92M17.72 406.9H20.47M167.1 499.82V502.92M17.72 377.8H20.47M213 499.82V502.92" stroke="#333" stroke-width="1.1" fill="none"/>
<text class="a e" x="16.32" y="496.9">0.00</text>
<text class="a m" x="29.4" y="510.37">0.00</text>
<text class="a e" x="16.32" y="467.8">0.25</text>
<text class="a m" x="75.3" y="510.37">0.25</text>
<text class="a e" x="16.32" y="438.7">0.50</text>
<text class="a m" x="121.2" y="510.37">0.50</text>
<text class="a e" x="16.32" y="409.6">0.75</text>
<text class="a m" x="167.1" y="510.37">0.75</text>
<text class="a e" x="16.32" y="380.5">1.00</text>
<text class="a m" x="213" y="510.37">1.00</text>
<rect x="236.9" y="401.75" width="15.4" height="16.2" fill="#fff" stroke="#000" stroke-width="1.0"/>
<path d="M238.4 410.15H250.9" stroke="#2C7BB6" stroke-width="2.0"/>
<circle cx="244.6" cy="410.15" r="2.35" fill="#2C7BB6"/>
<text class="l" x="257.6" y="409.02">Imputed HLA</text>
<text class="l" x="257.6" y="417.12">AUC=0.675</text>
<rect x="236.9" y="417.95" width="15.4" height="16.2" fill="#fff" stroke="#000" stroke-width="1.0"/>
<path d="M238.4 426.35H250.9" stroke="#ABD9E9" stroke-width="2.0"/>
<circle cx="244.6" cy="426.35" r="2.35" fill="#ABD9E9"/>
<text class="l" x="257.6" y="425.22">LDpred</text>
<text class="l" x="257.6" y="433.32">AUC=0.652</text>
<rect x="236.9" y="434.15" width="15.4" height="16.2" fill="#fff" stroke="#000" stroke-width="1.0"/>
<path d="M238.4 442.55H250.9" stroke="#FDAE61" stroke-width="2.0"/>
<circle cx="244.6" cy="442.55" r="2.35" fill="#FDAE61"/>
<text class="l" x="257.6" y="441.42">Sequenced HLA</text>
<text class="l" x="257.6" y="449.52">AUC=0.675</text>
<rect x="236.9" y="450.35" width="15.4" height="24.3" fill="#fff" stroke="#000" stroke-width="1.0"/>
<path d="M238.4 462.8H250.9" stroke="#D7191C" stroke-width="2.0"/>
<circle cx="244.6" cy="462.8" r="2.35" fill="#D7191C"/>
<text class="l" x="257.6" y="457.62">Sequenced HLA</text>
<text class="l" x="257.6" y="465.72">with Imputed Genes</text>
<text class="l" x="257.6" y="473.82">AUC=0.674</text>
<text class="t" x="376.12" y="364.3">Rheumatoid Arthritis</text>
<path d="M407.95 371.98V500.02M375.82 479.65H577.78M453.85 371.98V500.02M375.82 450.55H577.78M499.75 371.98V500.02M375.82 421.45H577.78M545.65 371.98V500.02M375.82 392.35H577.78" stroke="#F3F3F3" stroke-width="0.8" fill="none"/>
<path d="M385 371.98V500.02M375.82 494.2H577.78M430.9 371.98V500.02M375.82 465.1H577.78M476.8 371.98V500.02M375.82 436H577.78M522.7 371.98V500.02M375.82 406.9H577.78M568.6 371.98V500.02M375.82 377.8H577.78" stroke="#EBEBEB" stroke-width="1.1" fill="none"/>
<path d="M385.0 494.2L385.0 494.1L385.1 494.0L385.2 493.7L385.3 493.3L385.4 492.8L385.6 492.2L385.8 491.5L386.1 490.8L386.4 490.0L386.5 489.6L386.7 489.1L387.1 488.3L387.3 487.8L387.5 487.5L387.9 486.6L388.1 486.4L388.4 485.8L388.9 485.1L389.4 484.3L389.4 484.3L389.6 484.1L390.0 483.5L390.6 482.8L391.1 482.1L391.2 482.0L391.9 481.3L392.6 480.5L392.6 480.5L393.3 479.8L394.1 479.0L394.2 478.9L394.9 478.1L395.6 477.3L395.7 477.3L395.8 477.2L396.6 476.2L397.2 475.6L397.5 475.3L398.5 474.2L398.8 473.9L399.5 473.2L400.3 472.3L400.5 472.1L401.5 471.0L401.8 470.6L402.6 469.8L403.4 469.0L403.7 468.6L404.6 467.7L404.9 467.4L404.9 467.4L406.1 466.1L406.4 465.8L407.3 464.8L407.9 464.2L408.6 463.5L409.5 462.6L409.9 462.2L411.0 461.0L411.2 460.8L412.5 459.4L414.1 457.8L415.5 456.4L415.6 456.2L417.1 454.7L418.7 453.1L420.2 451.5L421.7 450.0L423.2 448.5L424.8 447.1L424.8 447.1L426.3 445.8L427.8 444.5L429.4 443.3L430.9 442.0L432.4 440.9L434.0 439.7L435.5 438.6L437.0 437.4L438.6 436.3L440.1 435.2L441.6 434.1L443.1 433.1L444.7 432.0L445.2 431.6L446.2 430.9L447.7 429.8L449.3 428.7L450.8 427.7L452.3 426.6L453.9 425.6L455.4 424.6L456.9 423.6L458.4 422.6L460.0 421.6L461.5 420.6L463.0 419.6L464.6 418.6L465.6 418.0L466.1 417.7L467.6 416.7L469.1 415.7L470.7 414.8L472.2 413.8L473.7 412.9L475.3 412.0L476.8 411.1L478.3 410.1L479.9 409.3L481.4 408.4L482.9 407.5L484.4 406.7L485.8 406.0L486.0 405.9L487.5 405.1L489.0 404.3L490.6 403.5L492.1 402.8L493.6 402.0L495.2 401.3L496.7 400.5L498.2 399.8L499.8 399.1L501.3 398.4L502.8 397.7L504.3 397.1L505.9 396.4L506.5 396.1L507.4 395.7L508.9 395.0L510.5 394.4L512.0 393.7L513.5 393.1L515.0 392.4L516.6 391.8L518.1 391.2L519.6 390.5L521.2 389.9L522.7 389.3L524.2 388.8L525.8 388.2L526.7 387.8L527.3 387.6L528.8 387.0L530.4 386.4L531.9 385.9L533.4 385.3L534.9 384.7L536.5 384.1L538.0 383.6L539.5 383.0L541.1 382.5L542.6 382.1L544.1 381.6L545.6 381.2L547.2 380.9L547.5 380.8L548.7 380.6L550.2 380.3L551.8 380.0L553.3 379.7L554.8 379.4L556.4 379.2L557.9 378.9L559.4 378.7L561.0 378.5L562.5 378.3L564.0 378.1L565.5 378.0L567.1 377.9L568.6 377.8" stroke="#2C7BB6" stroke-width="2.1" fill="none"/>
<g fill="#2C7BB6"><circle cx="385.00" cy="494.20" r="2.35"/><circle cx="404.65" cy="467.66" r="2.35"/><circle cx="424.84" cy="447.06" r="2.35"/><circle cx="445.22" cy="431.58" r="2.35"/><circle cx="465.60" cy="417.96" r="2.35"/><circle cx="485.80" cy="405.97" r="2.35"/><circle cx="506.54" cy="396.07" r="2.35"/><circle cx="526.74" cy="387.81" r="2.35"/><circle cx="547.49" cy="380.83" r="2.35"/><circle cx="568.60" cy="377.80" r="2.35"/></g>
<path d="M385.0 494.2L385.0 494.1L385.1 494.0L385.2 493.7L385.3 493.4L385.4 493.0L385.6 492.4L385.8 491.8L386.1 491.2L386.4 490.4L386.5 490.1L386.7 489.7L387.1 488.9L387.3 488.4L387.5 488.1L387.9 487.2L388.1 487.0L388.4 486.4L388.9 485.7L389.4 484.9L389.4 484.9L389.6 484.6L390.0 484.1L390.6 483.4L391.1 482.8L391.2 482.7L391.9 481.9L392.6 481.2L392.6 481.1L393.3 480.5L394.1 479.7L394.2 479.6L394.9 478.9L395.6 478.1L395.7 478.1L395.8 478.0L396.6 477.1L397.2 476.5L397.5 476.2L398.5 475.3L398.8 475.0L399.5 474.3L400.3 473.5L400.5 473.3L401.5 472.3L401.8 472.0L402.6 471.2L403.4 470.5L403.7 470.1L404.6 469.2L404.9 468.9L404.9 468.9L406.1 467.7L406.4 467.3L407.3 466.4L407.9 465.7L408.6 465.1L409.5 464.1L409.9 463.7L411.0 462.5L411.2 462.3L412.5 460.9L414.1 459.3L415.5 457.9L415.6 457.8L417.1 456.2L418.7 454.7L420.2 453.1L421.7 451.7L423.2 450.2L424.8 448.9L424.8 448.8L426.3 447.6L427.8 446.3L429.4 445.1L430.9 443.9L432.4 442.7L434.0 441.5L435.5 440.4L437.0 439.3L438.6 438.2L440.1 437.1L441.6 436.0L443.1 434.9L444.7 433.8L445.2 433.4L446.2 432.8L447.7 431.7L449.3 430.6L450.8 429.6L452.3 428.6L453.9 427.6L455.4 426.6L456.9 425.6L458.4 424.6L460.0 423.6L461.5 422.6L463.0 421.6L464.6 420.6L465.6 419.9L466.1 419.6L467.6 418.6L469.1 417.6L470.7 416.6L472.2 415.6L473.7 414.6L475.3 413.6L476.8 412.6L478.3 411.6L479.9 410.6L481.4 409.7L482.9 408.8L484.4 407.9L485.8 407.1L486.0 407.0L487.5 406.2L489.0 405.4L490.6 404.6L492.1 403.8L493.6 403.0L495.2 402.3L496.7 401.5L498.2 400.8L499.8 400.0L501.3 399.3L502.8 398.6L504.3 397.9L505.9 397.2L506.5 396.9L507.4 396.5L508.9 395.8L510.5 395.1L512.0 394.4L513.5 393.8L515.0 393.1L516.6 392.4L518.1 391.8L519.6 391.1L521.2 390.5L522.7 389.9L524.2 389.3L525.8 388.7L526.7 388.3L527.3 388.1L528.8 387.5L530.4 386.9L531.9 386.3L533.4 385.7L534.9 385.1L536.5 384.5L538.0 383.9L539.5 383.4L541.1 382.8L542.6 382.3L544.1 381.9L545.6 381.5L547.2 381.1L547.5 381.1L548.7 380.8L550.2 380.5L551.8 380.2L553.3 379.9L554.8 379.6L556.4 379.3L557.9 379.0L559.4 378.8L561.0 378.6L562.5 378.4L564.0 378.2L565.5 378.0L567.1 377.9L568.6 377.8" stroke="#ABD9E9" stroke-width="2.1" fill="none" stroke-dasharray="3.6 3.4"/>
<g fill="#ABD9E9"><circle cx="385.00" cy="494.20" r="2.35"/><circle cx="404.65" cy="469.17" r="2.35"/><circle cx="424.84" cy="448.80" r="2.35"/><circle cx="445.22" cy="433.44" r="2.35"/><circle cx="465.60" cy="419.94" r="2.35"/><circle cx="485.80" cy="407.13" r="2.35"/><circle cx="506.54" cy="396.89" r="2.35"/><circle cx="526.74" cy="388.28" r="2.35"/><circle cx="547.49" cy="381.06" r="2.35"/><circle cx="568.60" cy="377.80" r="2.35"/></g>
<path d="M385.0 494.2L385.0 494.1L385.1 494.0L385.2 493.7L385.3 493.3L385.4 492.8L385.6 492.2L385.8 491.5L386.1 490.8L386.4 490.0L386.5 489.6L386.7 489.1L387.1 488.3L387.3 487.8L387.5 487.5L387.9 486.6L388.1 486.4L388.4 485.8L388.9 485.1L389.4 484.3L389.4 484.3L389.6 484.1L390.0 483.5L390.6 482.8L391.1 482.1L391.2 482.0L391.9 481.3L392.6 480.5L392.6 480.5L393.3 479.8L394.1 479.0L394.2 478.9L394.9 478.1L395.6 477.3L395.7 477.3L395.8 477.2L396.6 476.2L397.2 475.6L397.5 475.3L398.5 474.2L398.8 473.9L399.5 473.2L400.3 472.3L400.5 472.1L401.5 471.0L401.8 470.7L402.6 469.8L403.4 469.0L403.7 468.6L404.6 467.7L404.9 467.4L404.9 467.4L406.1 466.1L406.4 465.8L407.3 464.8L407.9 464.1L408.6 463.5L409.5 462.5L409.9 462.1L411.0 460.9L411.2 460.7L412.5 459.2L414.1 457.6L415.5 456.1L415.6 456.0L417.1 454.4L418.7 452.8L420.2 451.1L421.7 449.5L423.2 448.0L424.8 446.5L424.8 446.5L426.3 445.1L427.8 443.8L429.4 442.4L430.9 441.1L432.4 439.9L434.0 438.6L435.5 437.4L437.0 436.2L438.6 435.0L440.1 433.8L441.6 432.7L443.1 431.5L444.7 430.4L445.2 429.9L446.2 429.2L447.7 428.1L449.3 427.0L450.8 425.9L452.3 424.8L453.9 423.7L455.4 422.6L456.9 421.6L458.4 420.5L460.0 419.5L461.5 418.5L463.0 417.6L464.6 416.6L465.6 416.0L466.1 415.7L467.6 414.8L469.1 413.9L470.7 413.0L472.2 412.2L473.7 411.3L475.3 410.5L476.8 409.7L478.3 408.9L479.9 408.1L481.4 407.3L482.9 406.6L484.4 405.8L485.8 405.2L486.0 405.1L487.5 404.3L489.0 403.6L490.6 402.9L492.1 402.2L493.6 401.5L495.2 400.8L496.7 400.1L498.2 399.4L499.8 398.8L501.3 398.1L502.8 397.4L504.3 396.8L505.9 396.1L506.5 395.8L507.4 395.5L508.9 394.8L510.5 394.2L512.0 393.5L513.5 392.9L515.0 392.2L516.6 391.6L518.1 390.9L519.6 390.3L521.2 389.7L522.7 389.1L524.2 388.5L525.8 387.9L526.7 387.6L527.3 387.4L528.8 386.8L530.4 386.2L531.9 385.6L533.4 385.1L534.9 384.5L536.5 383.9L538.0 383.4L539.5 382.9L541.1 382.4L542.6 381.9L544.1 381.5L545.6 381.1L547.2 380.8L547.5 380.7L548.7 380.5L550.2 380.2L551.8 379.9L553.3 379.6L554.8 379.4L556.4 379.1L557.9 378.9L559.4 378.7L561.0 378.5L562.5 378.3L564.0 378.1L565.5 378.0L567.1 377.9L568.6 377.8" stroke="#FDAE61" stroke-width="2.1" fill="none" stroke-dasharray="6 2.6"/>
<g fill="#FDAE61"><circle cx="385.00" cy="494.20" r="2.35"/><circle cx="404.65" cy="467.66" r="2.35"/><circle cx="424.84" cy="446.48" r="2.35"/><circle cx="445.22" cy="429.95" r="2.35"/><circle cx="465.60" cy="415.98" r="2.35"/><circle cx="485.80" cy="405.15" r="2.35"/><circle cx="506.54" cy="395.84" r="2.35"/><circle cx="526.74" cy="387.58" r="2.35"/><circle cx="547.49" cy="380.71" r="2.35"/><circle cx="568.60" cy="377.80" r="2.35"/></g>
<path d="M385.0 494.2L385.0 494.2L385.1 494.0L385.2 493.8L385.3 493.4L385.4 493.0L385.6 492.5L385.8 492.0L386.1 491.3L386.4 490.6L386.5 490.3L386.7 489.9L387.1 489.2L387.3 488.7L387.5 488.4L387.9 487.7L388.1 487.4L388.4 486.9L388.9 486.2L389.4 485.5L389.4 485.5L389.6 485.2L390.0 484.7L390.6 484.0L391.1 483.4L391.2 483.3L391.9 482.6L392.6 481.9L392.6 481.8L393.3 481.1L394.1 480.3L394.2 480.3L394.9 479.5L395.6 478.7L395.7 478.7L395.8 478.6L396.6 477.6L397.2 476.9L397.5 476.6L398.5 475.5L398.8 475.2L399.5 474.3L400.3 473.4L400.5 473.2L401.5 472.0L401.8 471.6L402.6 470.7L403.4 469.9L403.7 469.5L404.6 468.5L404.9 468.2L404.9 468.2L406.1 466.9L406.4 466.6L407.3 465.6L407.9 465.0L408.6 464.3L409.5 463.4L409.9 463.0L411.0 461.8L411.2 461.7L412.5 460.3L414.1 458.7L415.5 457.3L415.6 457.2L417.1 455.6L418.7 454.0L420.2 452.4L421.7 450.8L423.2 449.3L424.8 447.9L424.8 447.9L426.3 446.6L427.8 445.3L429.4 444.0L430.9 442.8L432.4 441.6L434.0 440.4L435.5 439.3L437.0 438.2L438.6 437.0L440.1 435.9L441.6 434.8L443.1 433.8L444.7 432.7L445.2 432.3L446.2 431.6L447.7 430.5L449.3 429.4L450.8 428.4L452.3 427.3L453.9 426.3L455.4 425.3L456.9 424.3L458.4 423.3L460.0 422.3L461.5 421.3L463.0 420.3L464.6 419.3L465.6 418.7L466.1 418.3L467.6 417.4L469.1 416.4L470.7 415.4L472.2 414.4L473.7 413.5L475.3 412.5L476.8 411.6L478.3 410.6L479.9 409.7L481.4 408.8L482.9 407.9L484.4 407.1L485.8 406.3L486.0 406.2L487.5 405.4L489.0 404.6L490.6 403.8L492.1 403.1L493.6 402.3L495.2 401.6L496.7 400.8L498.2 400.1L499.8 399.4L501.3 398.7L502.8 398.0L504.3 397.3L505.9 396.6L506.5 396.3L507.4 395.9L508.9 395.2L510.5 394.6L512.0 393.9L513.5 393.2L515.0 392.6L516.6 391.9L518.1 391.2L519.6 390.6L521.2 390.0L522.7 389.4L524.2 388.8L525.8 388.2L526.7 387.8L527.3 387.6L528.8 387.0L530.4 386.4L531.9 385.8L533.4 385.3L534.9 384.7L536.5 384.1L538.0 383.6L539.5 383.0L541.1 382.5L542.6 382.1L544.1 381.6L545.6 381.2L547.2 380.9L547.5 380.8L548.7 380.6L550.2 380.3L551.8 380.0L553.3 379.7L554.8 379.4L556.4 379.2L557.9 378.9L559.4 378.7L561.0 378.5L562.5 378.3L564.0 378.1L565.5 378.0L567.1 377.9L568.6 377.8" stroke="#D7191C" stroke-width="2.1" fill="none" stroke-dasharray="7 7"/>
<g fill="#D7191C"><circle cx="385.00" cy="494.20" r="2.35"/><circle cx="404.65" cy="468.48" r="2.35"/><circle cx="424.84" cy="447.87" r="2.35"/><circle cx="445.22" cy="432.28" r="2.35"/><circle cx="465.60" cy="418.66" r="2.35"/><circle cx="485.80" cy="406.32" r="2.35"/><circle cx="506.54" cy="396.31" r="2.35"/><circle cx="526.74" cy="387.81" r="2.35"/><circle cx="547.49" cy="380.83" r="2.35"/><circle cx="568.60" cy="377.80" r="2.35"/></g>
<path d="M385 494.2L568.6 377.8" stroke="#000" stroke-width="1.2" stroke-dasharray="3.8 3.8" fill="none"/>
<rect x="376.07" y="372.18" width="201.46" height="127.64" fill="none" stroke="#333" stroke-width="0.75"/>
<path d="M373.32 494.2H376.07M385 499.82V502.92M373.32 465.1H376.07M430.9 499.82V502.92M373.32 436H376.07M476.8 499.82V502.92M373.32 406.9H376.07M522.7 499.82V502.92M373.32 377.8H376.07M568.6 499.82V502.92" stroke="#333" stroke-width="1.1" fill="none"/>
<text class="a e" x="371.22" y="496.9">0.00</text>
<text class="a m" x="385" y="510.37">0.00</text>
<text class="a e" x="371.22" y="467.8">0.25</text>
<text class="a m" x="430.9" y="510.37">0.25</text>
<text class="a e" x="371.22" y="438.7">0.50</text>
<text class="a m" x="476.8" y="510.37">0.50</text>
<text class="a e" x="371.22" y="409.6">0.75</text>
<text class="a m" x="522.7" y="510.37">0.75</text>
<text class="a e" x="371.22" y="380.5">1.00</text>
<text class="a m" x="568.6" y="510.37">1.00</text>
<rect x="592.5" y="401.75" width="15.4" height="16.2" fill="#fff" stroke="#000" stroke-width="1.0"/>
<path d="M594 410.15H606.5" stroke="#2C7BB6" stroke-width="2.0"/>
<circle cx="600.2" cy="410.15" r="2.35" fill="#2C7BB6"/>
<text class="l" x="613.2" y="409.02">Imputed HLA</text>
<text class="l" x="613.2" y="417.12">AUC=0.653</text>
<rect x="592.5" y="417.95" width="15.4" height="16.2" fill="#fff" stroke="#000" stroke-width="1.0"/>
<path d="M594 426.35H606.5" stroke="#ABD9E9" stroke-width="2.0"/>
<circle cx="600.2" cy="426.35" r="2.35" fill="#ABD9E9"/>
<text class="l" x="613.2" y="425.22">LDpred</text>
<text class="l" x="613.2" y="433.32">AUC=0.642</text>
<rect x="592.5" y="434.15" width="15.4" height="16.2" fill="#fff" stroke="#000" stroke-width="1.0"/>
<path d="M594 442.55H606.5" stroke="#FDAE61" stroke-width="2.0"/>
<circle cx="600.2" cy="442.55" r="2.35" fill="#FDAE61"/>
<text class="l" x="613.2" y="441.42">Sequenced HLA</text>
<text class="l" x="613.2" y="449.52">AUC=0.654</text>
<rect x="592.5" y="450.35" width="15.4" height="24.3" fill="#fff" stroke="#000" stroke-width="1.0"/>
<path d="M594 462.8H606.5" stroke="#D7191C" stroke-width="2.0"/>
<circle cx="600.2" cy="462.8" r="2.35" fill="#D7191C"/>
<text class="l" x="613.2" y="457.62">Sequenced HLA</text>
<text class="l" x="613.2" y="465.72">with Imputed Genes</text>
<text class="l" x="613.2" y="473.82">AUC=0.647</text>
<text class="t" x="20.52" y="542">Ulcerative Colitis</text>
<path d="M52.35 549.68V677.72M20.22 657.35H222.18M98.25 549.68V677.72M20.22 628.25H222.18M144.15 549.68V677.72M20.22 599.15H222.18M190.05 549.68V677.72M20.22 570.05H222.18" stroke="#F3F3F3" stroke-width="0.8" fill="none"/>
<path d="M29.4 549.68V677.72M20.22 671.9H222.18M75.3 549.68V677.72M20.22 642.8H222.18M121.2 549.68V677.72M20.22 613.7H222.18M167.1 549.68V677.72M20.22 584.6H222.18M213 549.68V677.72M20.22 555.5H222.18" stroke="#EBEBEB" stroke-width="1.1" fill="none"/>
<path d="M29.4 671.9L29.4 671.9L29.5 671.8L29.6 671.6L29.7 671.3L29.8 671.0L30.0 670.6L30.2 670.1L30.5 669.6L30.8 669.0L30.9 668.8L31.1 668.4L31.5 667.7L31.9 666.9L32.3 666.1L32.3 666.1L32.5 665.9L32.8 665.3L33.3 664.4L33.8 663.5L34.0 663.2L34.4 662.5L35.0 661.5L35.5 660.7L35.6 660.6L36.3 659.6L36.4 659.4L37.0 658.6L37.0 658.5L37.7 657.7L38.5 656.7L38.6 656.7L39.3 655.8L40.1 654.9L40.2 654.8L41.0 653.8L41.6 653.1L41.7 653.0L41.9 652.7L42.9 651.5L43.2 651.2L43.9 650.3L44.7 649.2L44.9 648.9L45.9 647.6L46.2 647.2L47.0 646.2L47.8 645.4L48.1 644.9L49.0 644.0L49.3 643.7L49.3 643.7L50.5 642.6L50.8 642.3L51.7 641.5L52.3 640.9L53.0 640.4L53.9 639.7L54.3 639.4L55.4 638.4L55.6 638.3L56.9 637.2L57.3 636.9L58.5 635.9L60.0 634.5L61.5 633.2L63.1 631.8L64.6 630.5L66.1 629.1L67.7 627.8L69.2 626.6L69.2 626.5L70.7 625.3L72.2 624.0L73.8 622.8L75.3 621.6L76.8 620.3L78.4 619.1L79.9 617.9L81.4 616.7L83.0 615.6L84.5 614.4L86.0 613.3L87.5 612.2L89.1 611.2L89.6 610.8L90.6 610.1L92.1 609.1L93.7 608.1L95.2 607.2L96.7 606.3L98.2 605.3L99.8 604.4L101.3 603.5L102.8 602.6L104.4 601.8L105.9 600.9L107.4 600.0L109.0 599.1L110.2 598.3L110.5 598.2L112.0 597.2L113.5 596.3L115.1 595.3L116.6 594.4L118.1 593.4L119.7 592.5L121.2 591.5L122.7 590.6L124.3 589.7L125.8 588.8L127.3 587.9L128.8 587.1L130.4 586.3L130.9 586.0L131.9 585.5L133.4 584.7L135.0 584.0L136.5 583.3L138.0 582.6L139.6 581.9L141.1 581.2L142.6 580.6L144.2 579.9L145.7 579.3L147.2 578.6L148.7 578.0L150.3 577.3L151.8 576.7L151.9 576.7L153.3 576.1L154.9 575.5L156.4 574.8L157.9 574.2L159.5 573.6L161.0 573.0L162.5 572.4L164.0 571.8L165.6 571.3L167.1 570.7L168.6 570.1L170.2 569.5L171.7 568.9L172.1 568.8L173.2 568.3L174.8 567.7L176.3 567.1L177.8 566.5L179.3 565.9L180.9 565.3L182.4 564.7L183.9 564.1L185.5 563.5L187.0 563.0L188.5 562.4L190.1 561.9L191.6 561.4L192.4 561.1L193.1 560.9L194.6 560.4L196.2 559.9L197.7 559.5L199.2 559.0L200.8 558.6L202.3 558.2L203.8 557.7L205.3 557.3L206.9 556.9L208.4 556.6L209.9 556.2L211.5 555.8L213.0 555.5" stroke="#2C7BB6" stroke-width="2.1" fill="none"/>
<g fill="#2C7BB6"><circle cx="29.40" cy="671.90" r="2.35"/><circle cx="49.05" cy="643.96" r="2.35"/><circle cx="69.24" cy="626.50" r="2.35"/><circle cx="89.62" cy="610.79" r="2.35"/><circle cx="110.18" cy="598.34" r="2.35"/><circle cx="130.93" cy="586.00" r="2.35"/><circle cx="151.86" cy="576.68" r="2.35"/><circle cx="172.06" cy="568.77" r="2.35"/><circle cx="192.44" cy="561.09" r="2.35"/><circle cx="213.00" cy="555.50" r="2.35"/></g>
<path d="M29.4 671.9L29.4 671.9L29.5 671.8L29.6 671.6L29.7 671.4L29.8 671.1L30.0 670.7L30.2 670.3L30.5 669.8L30.8 669.3L30.9 669.1L31.1 668.7L31.5 668.1L31.9 667.4L32.3 666.7L32.3 666.7L32.5 666.5L32.8 666.0L33.3 665.2L33.8 664.4L34.0 664.1L34.4 663.5L35.0 662.7L35.5 662.0L35.6 661.8L36.3 661.0L36.4 660.8L37.0 660.1L37.0 660.0L37.7 659.2L38.5 658.4L38.6 658.3L39.3 657.5L40.1 656.7L40.2 656.7L41.0 655.7L41.6 655.1L41.7 655.0L41.9 654.7L42.9 653.7L43.2 653.4L43.9 652.6L44.7 651.6L44.9 651.4L45.9 650.2L46.2 649.9L47.0 649.0L47.8 648.2L48.1 647.8L49.0 646.9L49.3 646.6L49.3 646.6L50.5 645.5L50.8 645.1L51.7 644.3L52.3 643.7L53.0 643.1L53.9 642.3L54.3 642.0L55.4 640.9L55.6 640.8L56.9 639.6L57.3 639.3L58.5 638.3L60.0 637.1L61.5 635.9L63.1 634.7L64.6 633.6L66.1 632.4L67.7 631.2L69.2 630.0L69.2 630.0L70.7 628.8L72.2 627.6L73.8 626.3L75.3 625.0L76.8 623.8L78.4 622.5L79.9 621.2L81.4 619.9L83.0 618.7L84.5 617.5L86.0 616.3L87.5 615.2L89.1 614.1L89.6 613.7L90.6 613.0L92.1 612.0L93.7 611.0L95.2 610.1L96.7 609.2L98.2 608.2L99.8 607.4L101.3 606.5L102.8 605.6L104.4 604.7L105.9 603.9L107.4 603.0L109.0 602.2L110.2 601.5L110.5 601.3L112.0 600.5L113.5 599.6L115.1 598.8L116.6 597.9L118.1 597.1L119.7 596.3L121.2 595.5L122.7 594.7L124.3 593.9L125.8 593.1L127.3 592.3L128.8 591.5L130.4 590.7L130.9 590.4L131.9 589.9L133.4 589.1L135.0 588.3L136.5 587.6L138.0 586.8L139.6 586.0L141.1 585.2L142.6 584.5L144.2 583.7L145.7 583.0L147.2 582.2L148.7 581.5L150.3 580.7L151.8 580.0L151.9 579.9L153.3 579.2L154.9 578.5L156.4 577.8L157.9 577.1L159.5 576.4L161.0 575.6L162.5 574.9L164.0 574.2L165.6 573.5L167.1 572.9L168.6 572.2L170.2 571.5L171.7 570.8L172.1 570.6L173.2 570.1L174.8 569.4L176.3 568.7L177.8 568.0L179.3 567.4L180.9 566.7L182.4 566.0L183.9 565.3L185.5 564.7L187.0 564.0L188.5 563.4L190.1 562.8L191.6 562.2L192.4 561.9L193.1 561.7L194.6 561.1L196.2 560.6L197.7 560.1L199.2 559.5L200.8 559.0L202.3 558.6L203.8 558.1L205.3 557.6L206.9 557.2L208.4 556.7L209.9 556.3L211.5 555.9L213.0 555.5" stroke="#ABD9E9" stroke-width="2.1" fill="none" stroke-dasharray="3.6 3.4"/>
<g fill="#ABD9E9"><circle cx="29.40" cy="671.90" r="2.35"/><circle cx="49.05" cy="646.87" r="2.35"/><circle cx="69.24" cy="630.00" r="2.35"/><circle cx="89.62" cy="613.70" r="2.35"/><circle cx="110.18" cy="601.48" r="2.35"/><circle cx="130.93" cy="590.42" r="2.35"/><circle cx="151.86" cy="579.94" r="2.35"/><circle cx="172.06" cy="570.63" r="2.35"/><circle cx="192.44" cy="561.90" r="2.35"/><circle cx="213.00" cy="555.50" r="2.35"/></g>
<path d="M29.4 671.9L29.4 671.9L29.5 671.8L29.6 671.6L29.7 671.3L29.8 671.0L30.0 670.6L30.2 670.1L30.5 669.6L30.8 669.0L30.9 668.8L31.1 668.4L31.5 667.7L31.9 666.9L32.3 666.1L32.3 666.1L32.5 665.9L32.8 665.3L33.3 664.4L33.8 663.5L34.0 663.2L34.4 662.5L35.0 661.5L35.5 660.7L35.6 660.6L36.3 659.6L36.4 659.4L37.0 658.6L37.0 658.5L37.7 657.7L38.5 656.7L38.6 656.6L39.3 655.8L40.1 654.9L40.2 654.8L41.0 653.8L41.6 653.1L41.7 653.0L41.9 652.8L42.9 651.6L43.2 651.3L43.9 650.4L44.7 649.5L44.9 649.2L45.9 648.0L46.2 647.7L47.0 646.7L47.8 645.9L48.1 645.5L49.0 644.5L49.3 644.3L49.3 644.3L50.5 643.1L50.8 642.8L51.7 641.9L52.3 641.3L53.0 640.7L53.9 639.9L54.3 639.5L55.4 638.5L55.6 638.4L56.9 637.2L57.3 636.9L58.5 635.9L60.0 634.6L61.5 633.4L63.1 632.3L64.6 631.1L66.1 629.9L67.7 628.8L69.2 627.6L69.2 627.6L70.7 626.4L72.2 625.2L73.8 623.9L75.3 622.7L76.8 621.4L78.4 620.2L79.9 618.9L81.4 617.7L83.0 616.5L84.5 615.3L86.0 614.2L87.5 613.1L89.1 612.0L89.6 611.6L90.6 610.9L92.1 609.9L93.7 609.0L95.2 608.0L96.7 607.1L98.2 606.2L99.8 605.3L101.3 604.4L102.8 603.6L104.4 602.7L105.9 601.8L107.4 600.9L109.0 600.0L110.2 599.3L110.5 599.1L112.0 598.1L113.5 597.2L115.1 596.2L116.6 595.2L118.1 594.2L119.7 593.3L121.2 592.3L122.7 591.3L124.3 590.4L125.8 589.5L127.3 588.6L128.8 587.7L130.4 586.9L130.9 586.6L131.9 586.1L133.4 585.3L135.0 584.6L136.5 583.8L138.0 583.1L139.6 582.4L141.1 581.8L142.6 581.1L144.2 580.4L145.7 579.8L147.2 579.1L148.7 578.5L150.3 577.8L151.8 577.2L151.9 577.2L153.3 576.5L154.9 575.9L156.4 575.3L157.9 574.6L159.5 574.0L161.0 573.4L162.5 572.8L164.0 572.2L165.6 571.6L167.1 571.0L168.6 570.4L170.2 569.8L171.7 569.1L172.1 569.0L173.2 568.5L174.8 567.9L176.3 567.3L177.8 566.7L179.3 566.0L180.9 565.4L182.4 564.8L183.9 564.2L185.5 563.6L187.0 563.0L188.5 562.4L190.1 561.9L191.6 561.4L192.4 561.1L193.1 560.9L194.6 560.4L196.2 559.9L197.7 559.5L199.2 559.0L200.8 558.6L202.3 558.1L203.8 557.7L205.3 557.3L206.9 556.9L208.4 556.5L209.9 556.2L211.5 555.8L213.0 555.5" stroke="#FDAE61" stroke-width="2.1" fill="none" stroke-dasharray="6 2.6"/>
<g fill="#FDAE61"><circle cx="29.40" cy="671.90" r="2.35"/><circle cx="49.05" cy="644.55" r="2.35"/><circle cx="69.24" cy="627.55" r="2.35"/><circle cx="89.62" cy="611.60" r="2.35"/><circle cx="110.18" cy="599.27" r="2.35"/><circle cx="130.93" cy="586.58" r="2.35"/><circle cx="151.86" cy="577.15" r="2.35"/><circle cx="172.06" cy="569.00" r="2.35"/><circle cx="192.44" cy="561.09" r="2.35"/><circle cx="213.00" cy="555.50" r="2.35"/></g>
<path d="M29.4 671.9L29.4 671.9L29.5 671.8L29.6 671.6L29.7 671.3L29.8 671.0L30.0 670.6L30.2 670.1L30.5 669.6L30.8 669.0L30.9 668.8L31.1 668.4L31.5 667.7L31.9 666.9L32.3 666.1L32.3 666.1L32.5 665.9L32.8 665.3L33.3 664.4L33.8 663.5L34.0 663.2L34.4 662.5L35.0 661.5L35.5 660.7L35.6 660.6L36.3 659.6L36.4 659.4L37.0 658.6L37.0 658.5L37.7 657.7L38.5 656.7L38.6 656.6L39.3 655.8L40.1 654.9L40.2 654.8L41.0 653.8L41.6 653.1L41.7 653.0L41.9 652.8L42.9 651.6L43.2 651.3L43.9 650.4L44.7 649.5L44.9 649.2L45.9 648.0L46.2 647.7L47.0 646.7L47.8 645.9L48.1 645.5L49.0 644.5L49.3 644.3L49.3 644.3L50.5 643.1L50.8 642.8L51.7 641.9L52.3 641.3L53.0 640.7L53.9 639.9L54.3 639.5L55.4 638.5L55.6 638.4L56.9 637.2L57.3 636.9L58.5 635.9L60.0 634.6L61.5 633.4L63.1 632.3L64.6 631.1L66.1 629.9L67.7 628.8L69.2 627.6L69.2 627.6L70.7 626.4L72.2 625.2L73.8 623.9L75.3 622.7L76.8 621.4L78.4 620.2L79.9 618.9L81.4 617.7L83.0 616.5L84.5 615.3L86.0 614.2L87.5 613.1L89.1 612.0L89.6 611.6L90.6 610.9L92.1 609.9L93.7 609.0L95.2 608.0L96.7 607.1L98.2 606.2L99.8 605.3L101.3 604.4L102.8 603.6L104.4 602.7L105.9 601.8L107.4 600.9L109.0 600.0L110.2 599.3L110.5 599.1L112.0 598.1L113.5 597.2L115.1 596.2L116.6 595.2L118.1 594.2L119.7 593.3L121.2 592.3L122.7 591.3L124.3 590.4L125.8 589.5L127.3 588.6L128.8 587.7L130.4 586.9L130.9 586.6L131.9 586.1L133.4 585.3L135.0 584.6L136.5 583.8L138.0 583.1L139.6 582.4L141.1 581.8L142.6 581.1L144.2 580.4L145.7 579.8L147.2 579.1L148.7 578.5L150.3 577.8L151.8 577.2L151.9 577.2L153.3 576.5L154.9 575.9L156.4 575.3L157.9 574.6L159.5 574.0L161.0 573.4L162.5 572.8L164.0 572.2L165.6 571.6L167.1 571.0L168.6 570.4L170.2 569.8L171.7 569.1L172.1 569.0L173.2 568.5L174.8 567.9L176.3 567.3L177.8 566.7L179.3 566.0L180.9 565.4L182.4 564.8L183.9 564.2L185.5 563.6L187.0 563.0L188.5 562.4L190.1 561.9L191.6 561.4L192.4 561.1L193.1 560.9L194.6 560.4L196.2 559.9L197.7 559.5L199.2 559.0L200.8 558.6L202.3 558.1L203.8 557.7L205.3 557.3L206.9 556.9L208.4 556.5L209.9 556.2L211.5 555.8L213.0 555.5" stroke="#D7191C" stroke-width="2.1" fill="none" stroke-dasharray="7 7"/>
<g fill="#D7191C"><circle cx="29.40" cy="671.90" r="2.35"/><circle cx="49.05" cy="644.55" r="2.35"/><circle cx="69.24" cy="627.55" r="2.35"/><circle cx="89.62" cy="611.60" r="2.35"/><circle cx="110.18" cy="599.27" r="2.35"/><circle cx="130.93" cy="586.58" r="2.35"/><circle cx="151.86" cy="577.15" r="2.35"/><circle cx="172.06" cy="569.00" r="2.35"/><circle cx="192.44" cy="561.09" r="2.35"/><circle cx="213.00" cy="555.50" r="2.35"/></g>
<path d="M29.4 671.9L213 555.5" stroke="#000" stroke-width="1.2" stroke-dasharray="3.8 3.8" fill="none"/>
<rect x="20.47" y="549.88" width="201.46" height="127.64" fill="none" stroke="#333" stroke-width="0.75"/>
<path d="M17.72 671.9H20.47M29.4 677.52V680.62M17.72 642.8H20.47M75.3 677.52V680.62M17.72 613.7H20.47M121.2 677.52V680.62M17.72 584.6H20.47M167.1 677.52V680.62M17.72 555.5H20.47M213 677.52V680.62" stroke="#333" stroke-width="1.1" fill="none"/>
<text class="a e" x="16.32" y="674.6">0.00</text>
<text class="a m" x="29.4" y="688.07">0.00</text>
<text class="a e" x="16.32" y="645.5">0.25</text>
<text class="a m" x="75.3" y="688.07">0.25</text>
<text class="a e" x="16.32" y="616.4">0.50</text>
<text class="a m" x="121.2" y="688.07">0.50</text>
<text class="a e" x="16.32" y="587.3">0.75</text>
<text class="a m" x="167.1" y="688.07">0.75</text>
<text class="a e" x="16.32" y="558.2">1.00</text>
<text class="a m" x="213" y="688.07">1.00</text>
<rect x="236.9" y="579.45" width="15.4" height="16.2" fill="#fff" stroke="#000" stroke-width="1.0"/>
<path d="M238.4 587.85H250.9" stroke="#2C7BB6" stroke-width="2.0"/>
<circle cx="244.6" cy="587.85" r="2.35" fill="#2C7BB6"/>
<text class="l" x="257.6" y="586.72">Imputed HLA</text>
<text class="l" x="257.6" y="594.82">AUC=0.635</text>
<rect x="236.9" y="595.65" width="15.4" height="16.2" fill="#fff" stroke="#000" stroke-width="1.0"/>
<path d="M238.4 604.05H250.9" stroke="#ABD9E9" stroke-width="2.0"/>
<circle cx="244.6" cy="604.05" r="2.35" fill="#ABD9E9"/>
<text class="l" x="257.6" y="602.92">LDpred</text>
<text class="l" x="257.6" y="611.02">AUC=0.613</text>
<rect x="236.9" y="611.85" width="15.4" height="16.2" fill="#fff" stroke="#000" stroke-width="1.0"/>
<path d="M238.4 620.25H250.9" stroke="#FDAE61" stroke-width="2.0"/>
<circle cx="244.6" cy="620.25" r="2.35" fill="#FDAE61"/>
<text class="l" x="257.6" y="619.12">Sequenced HLA</text>
<text class="l" x="257.6" y="627.22">AUC=0.634</text>
<rect x="236.9" y="628.05" width="15.4" height="24.3" fill="#fff" stroke="#000" stroke-width="1.0"/>
<path d="M238.4 640.5H250.9" stroke="#D7191C" stroke-width="2.0"/>
<circle cx="244.6" cy="640.5" r="2.35" fill="#D7191C"/>
<text class="l" x="257.6" y="635.32">Sequenced HLA</text>
<text class="l" x="257.6" y="643.42">with Imputed Genes</text>
<text class="l" x="257.6" y="651.52">AUC=0.633</text>
</g>
</svg>
</body></html>
